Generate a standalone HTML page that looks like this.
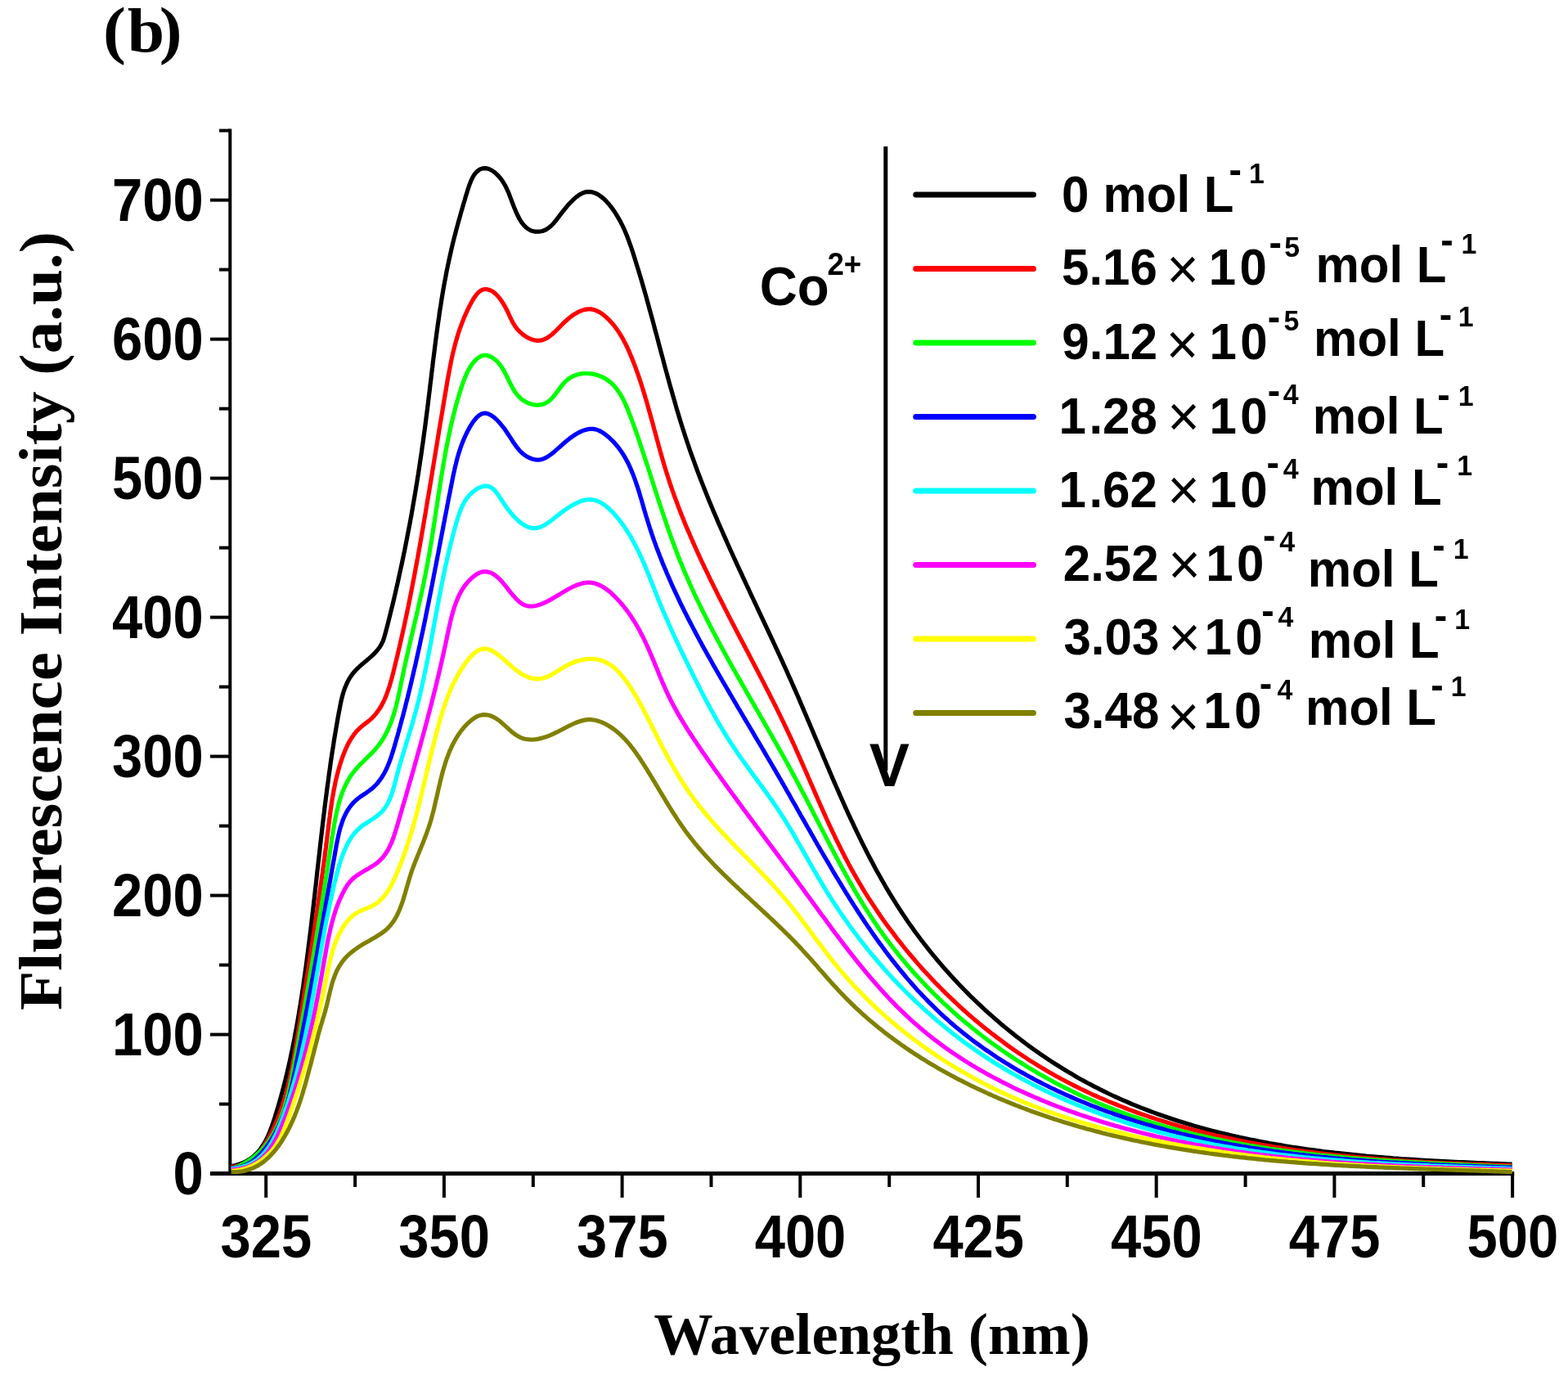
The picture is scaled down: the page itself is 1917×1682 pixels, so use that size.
<!DOCTYPE html>
<html><head><meta charset="utf-8"><title>Fluorescence spectra</title>
<style>html,body{margin:0;padding:0;background:#fff;}svg{display:block;}</style>
</head><body>
<svg width="1917" height="1682" viewBox="0 0 1917 1682">
<rect x="0" y="0" width="1917" height="1682" fill="#fff"/>
<g stroke="#000" stroke-linecap="butt" fill="none">
<line x1="281.3" y1="157.5" x2="281.3" y2="1437" stroke-width="4"/>
<line x1="257" y1="1434.6" x2="1851.2" y2="1434.6" stroke-width="5"/>
<line x1="257" y1="1434.6" x2="281.3" y2="1434.6" stroke-width="4"/>
<line x1="268" y1="1349.6" x2="281.3" y2="1349.6" stroke-width="4"/>
<line x1="257" y1="1264.6" x2="281.3" y2="1264.6" stroke-width="4"/>
<line x1="268" y1="1179.6" x2="281.3" y2="1179.6" stroke-width="4"/>
<line x1="257" y1="1094.6" x2="281.3" y2="1094.6" stroke-width="4"/>
<line x1="268" y1="1009.6" x2="281.3" y2="1009.6" stroke-width="4"/>
<line x1="257" y1="924.6" x2="281.3" y2="924.6" stroke-width="4"/>
<line x1="268" y1="839.6" x2="281.3" y2="839.6" stroke-width="4"/>
<line x1="257" y1="754.6" x2="281.3" y2="754.6" stroke-width="4"/>
<line x1="268" y1="669.6" x2="281.3" y2="669.6" stroke-width="4"/>
<line x1="257" y1="584.6" x2="281.3" y2="584.6" stroke-width="4"/>
<line x1="268" y1="499.6" x2="281.3" y2="499.6" stroke-width="4"/>
<line x1="257" y1="414.6" x2="281.3" y2="414.6" stroke-width="4"/>
<line x1="268" y1="329.6" x2="281.3" y2="329.6" stroke-width="4"/>
<line x1="257" y1="244.6" x2="281.3" y2="244.6" stroke-width="4"/>
<line x1="268" y1="159.6" x2="281.3" y2="159.6" stroke-width="4"/>
<line x1="325.2" y1="1434.6" x2="325.2" y2="1464" stroke-width="4"/>
<line x1="434.1" y1="1434.6" x2="434.1" y2="1451" stroke-width="4"/>
<line x1="542.9" y1="1434.6" x2="542.9" y2="1464" stroke-width="4"/>
<line x1="651.8" y1="1434.6" x2="651.8" y2="1451" stroke-width="4"/>
<line x1="760.6" y1="1434.6" x2="760.6" y2="1464" stroke-width="4"/>
<line x1="869.5" y1="1434.6" x2="869.5" y2="1451" stroke-width="4"/>
<line x1="978.3" y1="1434.6" x2="978.3" y2="1464" stroke-width="4"/>
<line x1="1087.2" y1="1434.6" x2="1087.2" y2="1451" stroke-width="4"/>
<line x1="1196.0" y1="1434.6" x2="1196.0" y2="1464" stroke-width="4"/>
<line x1="1304.8" y1="1434.6" x2="1304.8" y2="1451" stroke-width="4"/>
<line x1="1413.7" y1="1434.6" x2="1413.7" y2="1464" stroke-width="4"/>
<line x1="1522.6" y1="1434.6" x2="1522.6" y2="1451" stroke-width="4"/>
<line x1="1631.4" y1="1434.6" x2="1631.4" y2="1464" stroke-width="4"/>
<line x1="1740.2" y1="1434.6" x2="1740.2" y2="1451" stroke-width="4"/>
<line x1="1849.1" y1="1434.6" x2="1849.1" y2="1464" stroke-width="4"/>
</g>
<g fill="none" stroke-width="5.2" stroke-linejoin="round" stroke-linecap="butt">
<path d="M282.5 1425.6 L288.0 1424.5 L293.0 1423.0 L297.7 1421.1 L302.0 1419.0 L306.0 1416.5 L309.6 1413.8 L312.9 1410.7 L316.0 1407.5 L318.8 1404.0 L321.3 1400.3 L323.7 1396.4 L325.8 1392.4 L327.8 1388.3 L329.6 1384.0 L331.3 1379.6 L332.9 1375.2 L334.4 1370.7 L335.9 1366.2 L337.3 1361.6 L338.7 1357.1 L340.1 1352.5 L341.4 1348.0 L342.7 1343.4 L344.0 1338.8 L345.2 1334.3 L346.4 1329.7 L347.6 1325.1 L348.8 1320.5 L349.9 1315.9 L351.0 1311.3 L352.1 1306.7 L353.1 1302.1 L354.2 1297.5 L355.2 1292.9 L356.1 1288.3 L357.1 1283.7 L358.0 1279.0 L359.0 1274.4 L359.9 1269.8 L360.7 1265.1 L361.6 1260.5 L362.5 1255.8 L363.3 1251.2 L364.1 1246.6 L364.9 1241.9 L365.7 1237.3 L366.4 1232.6 L367.2 1228.0 L367.9 1223.3 L368.7 1218.6 L369.4 1214.0 L370.1 1209.3 L370.8 1204.7 L371.4 1200.0 L372.1 1195.3 L372.8 1190.7 L373.4 1186.0 L374.1 1181.3 L374.7 1176.7 L375.3 1172.0 L375.9 1167.3 L376.5 1162.6 L377.1 1158.0 L377.7 1153.3 L378.3 1148.6 L378.9 1143.9 L379.5 1139.2 L380.0 1134.6 L380.6 1129.9 L381.1 1125.2 L381.7 1120.5 L382.2 1115.8 L382.8 1111.1 L383.3 1106.5 L383.8 1101.8 L384.4 1097.1 L384.9 1092.4 L385.4 1087.7 L386.0 1083.0 L386.5 1078.3 L387.0 1073.6 L387.5 1068.9 L388.0 1064.2 L388.6 1059.5 L389.1 1054.8 L389.6 1050.1 L390.2 1045.4 L390.7 1040.8 L391.2 1036.1 L391.7 1031.4 L392.3 1026.7 L392.8 1022.0 L393.4 1017.3 L393.9 1012.6 L394.5 1007.9 L395.0 1003.2 L395.6 998.5 L396.2 993.8 L396.7 989.1 L397.3 984.4 L397.9 979.7 L398.5 975.0 L399.1 970.3 L399.7 965.6 L400.3 960.9 L401.0 956.2 L401.6 951.5 L402.2 946.8 L402.9 942.1 L403.6 937.4 L404.2 932.7 L404.9 928.0 L405.6 923.3 L406.3 918.6 L407.1 913.9 L407.8 909.2 L408.5 904.5 L409.3 899.8 L410.1 895.1 L410.9 890.4 L411.7 885.7 L412.5 881.0 L413.3 876.3 L414.2 871.6 L415.1 866.9 L416.0 862.2 L416.9 857.6 L418.0 853.0 L419.2 848.5 L420.6 844.0 L422.2 839.7 L424.0 835.5 L426.0 831.4 L428.4 827.5 L431.0 823.8 L434.0 820.3 L437.3 816.9 L440.8 813.7 L444.4 810.5 L448.1 807.5 L451.7 804.4 L455.1 801.3 L458.4 798.1 L461.4 794.8 L464.1 791.2 L466.4 787.4 L468.3 783.3 L469.8 778.9 L471.1 774.3 L472.3 769.7 L473.5 765.0 L474.7 760.4 L475.8 755.8 L477.0 751.1 L478.1 746.5 L479.3 741.9 L480.4 737.3 L481.5 732.6 L482.6 728.0 L483.7 723.4 L484.7 718.8 L485.8 714.2 L486.8 709.5 L487.8 704.9 L488.8 700.3 L489.8 695.7 L490.8 691.1 L491.8 686.4 L492.8 681.8 L493.7 677.2 L494.7 672.6 L495.6 667.9 L496.5 663.3 L497.4 658.7 L498.3 654.1 L499.2 649.4 L500.1 644.8 L501.0 640.2 L501.8 635.6 L502.7 630.9 L503.5 626.3 L504.3 621.7 L505.1 617.0 L505.9 612.4 L506.7 607.7 L507.5 603.1 L508.3 598.5 L509.0 593.8 L509.8 589.2 L510.5 584.5 L511.3 579.9 L512.0 575.2 L512.7 570.6 L513.4 565.9 L514.1 561.2 L514.8 556.6 L515.5 551.9 L516.1 547.2 L516.8 542.6 L517.5 537.9 L518.1 533.2 L518.7 528.5 L519.4 523.8 L520.0 519.1 L520.6 514.4 L521.2 509.7 L521.8 505.0 L522.4 500.3 L523.0 495.6 L523.6 490.9 L524.1 486.2 L524.7 481.5 L525.3 476.8 L525.8 472.1 L526.4 467.3 L527.0 462.6 L527.5 457.9 L528.1 453.2 L528.7 448.5 L529.2 443.7 L529.8 439.0 L530.4 434.3 L531.0 429.6 L531.6 424.9 L532.2 420.2 L532.8 415.5 L533.4 410.8 L534.0 406.1 L534.7 401.4 L535.3 396.7 L536.0 392.0 L536.7 387.4 L537.3 382.7 L538.0 378.0 L538.8 373.4 L539.5 368.7 L540.2 364.1 L541.0 359.5 L541.8 354.8 L542.6 350.2 L543.4 345.6 L544.3 341.0 L545.2 336.4 L546.0 331.8 L547.0 327.3 L547.9 322.7 L548.9 318.1 L549.9 313.6 L550.9 309.1 L551.9 304.6 L553.0 300.0 L554.1 295.5 L555.2 291.0 L556.4 286.5 L557.6 281.9 L558.8 277.4 L560.0 272.8 L561.3 268.2 L562.6 263.6 L563.9 258.9 L565.3 254.2 L566.6 249.5 L568.1 244.7 L569.5 239.8 L571.0 234.9 L572.5 230.0 L574.2 225.2 L576.0 220.6 L578.1 216.4 L580.4 212.7 L583.2 209.6 L586.4 207.2 L590.0 205.8 L593.8 205.6 L597.7 206.5 L601.6 208.5 L605.3 211.2 L608.8 214.5 L611.9 218.0 L614.6 221.8 L617.1 225.8 L619.2 230.0 L621.2 234.3 L623.0 238.9 L624.8 243.6 L626.6 248.4 L628.5 253.3 L630.5 258.1 L632.6 262.8 L634.9 267.3 L637.4 271.4 L640.2 275.0 L643.2 278.1 L646.6 280.5 L650.4 282.3 L654.5 283.2 L658.8 283.2 L663.0 282.5 L666.9 281.0 L670.5 278.8 L673.8 276.0 L677.0 272.7 L680.1 269.0 L683.2 264.9 L686.4 260.7 L689.8 256.4 L693.3 252.1 L697.0 248.0 L700.7 244.3 L704.5 240.9 L708.3 238.1 L712.2 236.0 L716.0 234.7 L719.8 234.3 L723.6 234.7 L727.4 235.9 L731.0 237.7 L734.6 240.1 L738.1 242.9 L741.4 246.2 L744.6 249.8 L747.7 253.7 L750.6 257.7 L753.3 261.9 L755.8 266.1 L758.2 270.3 L760.4 274.6 L762.5 278.9 L764.4 283.2 L766.2 287.6 L767.9 292.0 L769.5 296.4 L771.1 300.8 L772.6 305.3 L774.1 309.8 L775.5 314.2 L776.9 318.7 L778.3 323.2 L779.7 327.7 L781.1 332.2 L782.4 336.7 L783.8 341.2 L785.1 345.8 L786.4 350.3 L787.7 354.8 L789.0 359.4 L790.3 363.9 L791.5 368.5 L792.8 373.0 L794.0 377.6 L795.3 382.2 L796.5 386.7 L797.8 391.3 L799.0 395.9 L800.2 400.5 L801.4 405.0 L802.7 409.6 L803.9 414.2 L805.1 418.8 L806.3 423.4 L807.5 427.9 L808.7 432.5 L810.0 437.1 L811.2 441.7 L812.4 446.3 L813.6 450.8 L814.9 455.4 L816.1 460.0 L817.4 464.6 L818.6 469.1 L819.9 473.7 L821.2 478.2 L822.5 482.8 L823.8 487.4 L825.1 491.9 L826.4 496.4 L827.7 501.0 L829.1 505.5 L830.4 510.0 L831.8 514.5 L833.2 519.0 L834.6 523.5 L836.1 528.0 L837.5 532.5 L839.0 537.0 L840.5 541.5 L842.0 545.9 L843.5 550.4 L845.1 554.8 L846.7 559.3 L848.3 563.7 L849.9 568.1 L851.5 572.5 L853.1 576.9 L854.8 581.3 L856.5 585.7 L858.2 590.1 L859.9 594.4 L861.6 598.8 L863.4 603.2 L865.1 607.5 L866.9 611.9 L868.7 616.2 L870.5 620.6 L872.3 624.9 L874.2 629.2 L876.0 633.5 L877.8 637.9 L879.7 642.2 L881.6 646.5 L883.5 650.8 L885.4 655.1 L887.3 659.4 L889.2 663.7 L891.1 668.0 L893.0 672.2 L895.0 676.5 L896.9 680.8 L898.9 685.1 L900.8 689.4 L902.8 693.6 L904.8 697.9 L906.8 702.2 L908.7 706.4 L910.7 710.7 L912.7 715.0 L914.7 719.2 L916.7 723.5 L918.7 727.8 L920.7 732.0 L922.7 736.3 L924.7 740.5 L926.7 744.8 L928.7 749.1 L930.7 753.3 L932.7 757.6 L934.7 761.9 L936.7 766.1 L938.7 770.4 L940.7 774.7 L942.7 778.9 L944.7 783.2 L946.7 787.5 L948.7 791.8 L950.7 796.1 L952.6 800.3 L954.6 804.6 L956.6 808.9 L958.5 813.2 L960.5 817.5 L962.4 821.8 L964.3 826.1 L966.3 830.4 L968.2 834.7 L970.1 839.1 L972.0 843.4 L973.9 847.7 L975.8 852.0 L977.7 856.4 L979.5 860.7 L981.4 865.1 L983.2 869.4 L985.1 873.7 L986.9 878.1 L988.8 882.4 L990.6 886.8 L992.5 891.2 L994.3 895.5 L996.1 899.9 L998.0 904.2 L999.8 908.6 L1001.6 912.9 L1003.5 917.3 L1005.3 921.6 L1007.1 926.0 L1009.0 930.3 L1010.8 934.7 L1012.7 939.0 L1014.5 943.4 L1016.4 947.7 L1018.2 952.1 L1020.1 956.4 L1022.0 960.7 L1023.9 965.0 L1025.8 969.4 L1027.7 973.7 L1029.6 978.0 L1031.5 982.3 L1033.4 986.6 L1035.4 990.9 L1037.3 995.1 L1039.3 999.4 L1041.3 1003.7 L1043.3 1007.9 L1045.3 1012.2 L1047.3 1016.4 L1049.4 1020.6 L1051.4 1024.9 L1053.5 1029.1 L1055.6 1033.3 L1057.7 1037.5 L1059.8 1041.7 L1061.9 1045.8 L1064.1 1050.0 L1066.3 1054.1 L1068.5 1058.3 L1070.7 1062.4 L1073.0 1066.5 L1075.3 1070.6 L1077.6 1074.7 L1079.9 1078.7 L1082.2 1082.8 L1084.6 1086.8 L1087.0 1090.9 L1089.4 1094.9 L1091.9 1098.9 L1094.4 1102.8 L1096.9 1106.8 L1099.4 1110.8 L1102.0 1114.7 L1104.6 1118.6 L1107.2 1122.5 L1109.8 1126.4 L1112.5 1130.2 L1115.3 1134.1 L1118.0 1137.9 L1120.8 1141.7 L1123.6 1145.5 L1126.4 1149.2 L1129.3 1153.0 L1132.2 1156.7 L1135.1 1160.4 L1138.1 1164.1 L1141.1 1167.8 L1144.1 1171.4 L1147.1 1175.0 L1150.2 1178.6 L1153.3 1182.2 L1156.4 1185.8 L1159.6 1189.3 L1162.7 1192.8 L1165.9 1196.3 L1169.2 1199.8 L1172.4 1203.2 L1175.7 1206.6 L1179.0 1210.0 L1182.3 1213.4 L1185.7 1216.8 L1189.1 1220.1 L1192.5 1223.4 L1195.9 1226.7 L1199.4 1229.9 L1202.8 1233.1 L1206.3 1236.3 L1209.9 1239.5 L1213.4 1242.6 L1217.0 1245.8 L1220.6 1248.9 L1224.2 1251.9 L1227.8 1255.0 L1231.5 1258.0 L1235.2 1261.0 L1238.9 1263.9 L1242.6 1266.9 L1246.4 1269.8 L1250.1 1272.6 L1253.9 1275.5 L1257.7 1278.3 L1261.5 1281.1 L1265.4 1283.8 L1269.3 1286.6 L1273.2 1289.3 L1277.1 1291.9 L1281.0 1294.6 L1284.9 1297.2 L1288.9 1299.7 L1292.9 1302.3 L1296.9 1304.8 L1300.9 1307.3 L1304.9 1309.7 L1309.0 1312.1 L1313.1 1314.5 L1317.1 1316.9 L1321.2 1319.2 L1325.4 1321.4 L1329.5 1323.7 L1333.7 1325.9 L1337.8 1328.1 L1342.0 1330.2 L1346.2 1332.3 L1350.4 1334.4 L1354.6 1336.5 L1358.9 1338.5 L1363.1 1340.5 L1367.4 1342.4 L1371.7 1344.3 L1376.0 1346.2 L1380.3 1348.0 L1384.6 1349.9 L1389.0 1351.6 L1393.3 1353.4 L1397.7 1355.1 L1402.1 1356.8 L1406.5 1358.5 L1410.9 1360.1 L1415.3 1361.7 L1419.7 1363.3 L1424.1 1364.8 L1428.6 1366.3 L1433.0 1367.8 L1437.5 1369.3 L1442.0 1370.7 L1446.5 1372.1 L1451.0 1373.5 L1455.5 1374.8 L1460.0 1376.2 L1464.5 1377.4 L1469.1 1378.7 L1473.6 1380.0 L1478.2 1381.2 L1482.8 1382.4 L1487.3 1383.5 L1491.9 1384.7 L1496.5 1385.8 L1501.1 1386.9 L1505.7 1388.0 L1510.3 1389.0 L1514.9 1390.1 L1519.6 1391.1 L1524.2 1392.0 L1528.8 1393.0 L1533.5 1393.9 L1538.1 1394.9 L1542.8 1395.8 L1547.5 1396.6 L1552.1 1397.5 L1556.8 1398.3 L1561.5 1399.1 L1566.2 1399.9 L1570.9 1400.7 L1575.6 1401.5 L1580.3 1402.2 L1585.0 1402.9 L1589.7 1403.6 L1594.4 1404.3 L1599.1 1405.0 L1603.8 1405.6 L1608.6 1406.2 L1613.3 1406.9 L1618.0 1407.5 L1622.8 1408.0 L1627.5 1408.6 L1632.2 1409.2 L1637.0 1409.7 L1641.7 1410.2 L1646.4 1410.7 L1651.2 1411.2 L1655.9 1411.7 L1660.7 1412.2 L1665.4 1412.6 L1670.1 1413.1 L1674.9 1413.5 L1679.6 1413.9 L1684.4 1414.3 L1689.1 1414.7 L1693.9 1415.1 L1698.6 1415.4 L1703.3 1415.8 L1708.1 1416.1 L1712.8 1416.5 L1717.6 1416.8 L1722.3 1417.1 L1727.0 1417.4 L1731.7 1417.7 L1736.5 1418.0 L1741.2 1418.3 L1745.9 1418.6 L1750.6 1418.8 L1755.3 1419.1 L1760.1 1419.3 L1764.8 1419.6 L1769.5 1419.8 L1774.2 1420.0 L1778.9 1420.3 L1783.5 1420.5 L1788.2 1420.7 L1792.9 1420.9 L1797.6 1421.1 L1802.2 1421.3 L1806.9 1421.5 L1811.6 1421.7 L1816.2 1421.9 L1820.9 1422.1 L1825.5 1422.3 L1830.1 1422.4 L1834.7 1422.6 L1839.4 1422.8 L1844.0 1423.0 L1848.6 1423.1" stroke="#000000"/>
<path d="M282.9 1426.3 L287.8 1425.8 L292.3 1424.9 L296.6 1423.5 L300.6 1421.8 L304.3 1419.8 L307.8 1417.4 L311.0 1414.7 L314.0 1411.8 L316.9 1408.6 L319.5 1405.3 L322.0 1401.8 L324.3 1398.1 L326.6 1394.4 L328.7 1390.6 L330.7 1386.7 L332.7 1382.9 L334.5 1378.9 L336.3 1375.0 L338.0 1371.0 L339.6 1367.0 L341.2 1363.0 L342.7 1359.0 L344.1 1354.9 L345.5 1350.8 L346.8 1346.7 L348.0 1342.6 L349.2 1338.4 L350.3 1334.3 L351.4 1330.1 L352.5 1325.9 L353.5 1321.7 L354.4 1317.4 L355.4 1313.2 L356.2 1309.0 L357.1 1304.7 L357.9 1300.4 L358.7 1296.2 L359.5 1291.9 L360.3 1287.6 L361.0 1283.3 L361.7 1279.0 L362.4 1274.7 L363.1 1270.4 L363.8 1266.1 L364.5 1261.8 L365.2 1257.6 L365.9 1253.3 L366.6 1249.0 L367.3 1244.7 L367.9 1240.4 L368.6 1236.1 L369.3 1231.9 L370.0 1227.6 L370.7 1223.3 L371.4 1219.0 L372.0 1214.8 L372.7 1210.5 L373.4 1206.2 L374.1 1202.0 L374.7 1197.7 L375.4 1193.5 L376.1 1189.2 L376.8 1184.9 L377.4 1180.7 L378.1 1176.4 L378.7 1172.2 L379.4 1167.9 L380.1 1163.7 L380.7 1159.4 L381.4 1155.1 L382.0 1150.9 L382.7 1146.6 L383.3 1142.4 L384.0 1138.1 L384.6 1133.9 L385.3 1129.6 L385.9 1125.3 L386.5 1121.1 L387.2 1116.8 L387.8 1112.5 L388.4 1108.3 L389.0 1104.0 L389.6 1099.7 L390.3 1095.5 L390.9 1091.2 L391.5 1086.9 L392.1 1082.7 L392.7 1078.4 L393.3 1074.1 L393.9 1069.8 L394.5 1065.5 L395.0 1061.2 L395.6 1057.0 L396.2 1052.7 L396.8 1048.4 L397.3 1044.1 L397.9 1039.8 L398.5 1035.5 L399.0 1031.1 L399.6 1026.8 L400.1 1022.5 L400.6 1018.2 L401.2 1013.9 L401.7 1009.5 L402.3 1005.2 L402.8 1000.9 L403.4 996.6 L403.9 992.2 L404.6 987.9 L405.2 983.6 L405.8 979.3 L406.5 975.0 L407.3 970.8 L408.0 966.5 L408.9 962.2 L409.7 958.0 L410.6 953.8 L411.6 949.6 L412.7 945.4 L413.8 941.2 L415.0 937.1 L416.2 933.0 L417.6 928.9 L419.0 924.8 L420.5 920.8 L422.1 916.8 L423.9 912.9 L425.7 909.1 L427.8 905.4 L430.0 901.8 L432.4 898.4 L434.9 895.1 L437.7 892.1 L440.7 889.2 L444.0 886.5 L447.4 883.9 L450.7 881.4 L453.9 878.6 L456.8 875.7 L459.5 872.6 L461.9 869.4 L464.2 866.0 L466.4 862.5 L468.3 858.8 L470.1 855.0 L471.8 851.1 L473.3 847.1 L474.7 843.1 L476.1 839.0 L477.3 834.8 L478.5 830.6 L479.7 826.3 L480.8 822.1 L481.8 817.8 L482.9 813.5 L483.9 809.2 L485.0 805.0 L486.0 800.7 L487.0 796.4 L488.0 792.2 L489.0 787.9 L490.0 783.7 L490.9 779.4 L491.9 775.2 L492.8 770.9 L493.8 766.7 L494.7 762.4 L495.6 758.2 L496.5 753.9 L497.4 749.7 L498.3 745.4 L499.2 741.2 L500.0 737.0 L500.9 732.7 L501.7 728.5 L502.6 724.2 L503.4 720.0 L504.2 715.8 L505.0 711.5 L505.9 707.3 L506.7 703.1 L507.5 698.8 L508.2 694.6 L509.0 690.4 L509.8 686.1 L510.6 681.9 L511.3 677.7 L512.1 673.4 L512.9 669.2 L513.6 665.0 L514.4 660.8 L515.1 656.5 L515.8 652.3 L516.6 648.1 L517.3 643.8 L518.0 639.6 L518.8 635.3 L519.5 631.1 L520.2 626.9 L520.9 622.6 L521.6 618.4 L522.3 614.1 L523.0 609.9 L523.8 605.7 L524.5 601.4 L525.2 597.2 L525.9 592.9 L526.6 588.7 L527.3 584.4 L528.0 580.2 L528.7 575.9 L529.4 571.6 L530.1 567.4 L530.8 563.1 L531.5 558.9 L532.2 554.6 L532.9 550.3 L533.6 546.1 L534.3 541.8 L535.0 537.5 L535.7 533.3 L536.4 529.0 L537.1 524.7 L537.8 520.5 L538.5 516.2 L539.2 511.9 L540.0 507.6 L540.7 503.4 L541.4 499.1 L542.1 494.8 L542.8 490.6 L543.5 486.3 L544.2 482.0 L545.0 477.8 L545.7 473.5 L546.4 469.2 L547.1 465.0 L547.9 460.7 L548.7 456.4 L549.5 452.2 L550.3 447.9 L551.1 443.7 L552.0 439.5 L552.9 435.3 L553.9 431.0 L554.9 426.8 L556.0 422.7 L557.1 418.5 L558.3 414.3 L559.5 410.2 L560.8 406.0 L562.2 401.9 L563.7 397.8 L565.2 393.8 L566.8 389.7 L568.5 385.7 L570.3 381.7 L572.2 377.7 L574.2 373.7 L576.3 369.7 L578.5 365.9 L580.9 362.3 L583.4 359.0 L586.1 356.4 L589.1 354.5 L592.3 353.6 L595.7 353.7 L599.3 354.7 L602.7 356.6 L606.0 359.2 L609.1 362.5 L612.0 366.2 L614.7 370.2 L617.2 374.4 L619.5 378.8 L621.6 383.0 L623.5 387.2 L625.4 391.2 L627.4 395.0 L629.7 398.7 L632.3 402.2 L635.3 405.4 L638.6 408.3 L642.1 410.9 L645.8 413.1 L649.5 414.7 L653.3 415.8 L657.1 416.3 L660.9 416.2 L664.4 415.2 L667.9 413.7 L671.3 411.5 L674.6 409.0 L677.9 406.0 L681.1 402.8 L684.5 399.5 L687.8 396.0 L691.3 392.7 L694.9 389.5 L698.7 386.5 L702.5 383.9 L706.4 381.7 L710.4 379.9 L714.4 378.6 L718.4 377.9 L722.3 377.9 L726.1 378.6 L729.8 380.0 L733.4 381.9 L736.9 384.2 L740.2 386.9 L743.3 389.8 L746.3 392.9 L749.2 396.1 L751.9 399.4 L754.4 402.9 L756.8 406.4 L759.1 410.1 L761.3 413.8 L763.3 417.6 L765.3 421.5 L767.2 425.4 L769.0 429.4 L770.7 433.4 L772.4 437.5 L774.0 441.5 L775.6 445.6 L777.1 449.7 L778.6 453.8 L780.1 457.9 L781.5 462.1 L782.9 466.2 L784.2 470.3 L785.5 474.5 L786.8 478.6 L788.1 482.8 L789.3 487.0 L790.6 491.1 L791.8 495.3 L792.9 499.5 L794.1 503.7 L795.3 507.9 L796.4 512.0 L797.6 516.2 L798.7 520.4 L799.8 524.6 L801.0 528.8 L802.1 532.9 L803.2 537.1 L804.4 541.3 L805.5 545.5 L806.7 549.6 L807.8 553.8 L809.0 557.9 L810.2 562.1 L811.4 566.2 L812.6 570.4 L813.9 574.5 L815.2 578.6 L816.5 582.7 L817.8 586.8 L819.1 590.9 L820.5 594.9 L821.9 599.0 L823.4 603.1 L824.8 607.1 L826.3 611.2 L827.8 615.2 L829.3 619.2 L830.8 623.2 L832.4 627.2 L834.0 631.2 L835.6 635.2 L837.2 639.2 L838.8 643.2 L840.5 647.1 L842.2 651.1 L843.9 655.0 L845.6 659.0 L847.3 662.9 L849.1 666.9 L850.8 670.8 L852.6 674.7 L854.4 678.6 L856.2 682.6 L858.0 686.5 L859.9 690.4 L861.7 694.3 L863.6 698.2 L865.5 702.0 L867.3 705.9 L869.2 709.8 L871.1 713.7 L873.1 717.6 L875.0 721.4 L876.9 725.3 L878.8 729.2 L880.8 733.0 L882.8 736.9 L884.7 740.7 L886.7 744.6 L888.7 748.4 L890.6 752.3 L892.6 756.1 L894.6 760.0 L896.6 763.8 L898.6 767.6 L900.6 771.5 L902.6 775.3 L904.6 779.2 L906.6 783.0 L908.7 786.8 L910.7 790.7 L912.7 794.5 L914.7 798.3 L916.7 802.2 L918.7 806.0 L920.7 809.9 L922.7 813.7 L924.7 817.5 L926.7 821.4 L928.7 825.2 L930.7 829.1 L932.7 832.9 L934.7 836.8 L936.6 840.6 L938.6 844.5 L940.6 848.3 L942.5 852.2 L944.5 856.0 L946.4 859.9 L948.4 863.8 L950.3 867.6 L952.2 871.5 L954.1 875.4 L956.0 879.3 L957.9 883.2 L959.7 887.1 L961.6 891.0 L963.4 894.9 L965.3 898.8 L967.1 902.7 L968.9 906.6 L970.7 910.5 L972.5 914.4 L974.2 918.4 L976.0 922.3 L977.7 926.2 L979.5 930.2 L981.2 934.1 L982.9 938.1 L984.7 942.0 L986.4 945.9 L988.1 949.9 L989.8 953.8 L991.5 957.8 L993.3 961.7 L995.0 965.7 L996.7 969.6 L998.4 973.6 L1000.1 977.5 L1001.9 981.4 L1003.6 985.4 L1005.4 989.3 L1007.1 993.2 L1008.9 997.1 L1010.6 1001.0 L1012.4 1005.0 L1014.2 1008.9 L1016.0 1012.8 L1017.8 1016.7 L1019.7 1020.5 L1021.5 1024.4 L1023.4 1028.3 L1025.3 1032.1 L1027.2 1036.0 L1029.1 1039.8 L1031.1 1043.7 L1033.0 1047.5 L1035.0 1051.3 L1037.0 1055.1 L1039.1 1058.9 L1041.1 1062.7 L1043.2 1066.4 L1045.3 1070.2 L1047.5 1073.9 L1049.7 1077.7 L1051.9 1081.4 L1054.1 1085.1 L1056.3 1088.8 L1058.6 1092.5 L1060.9 1096.1 L1063.2 1099.8 L1065.6 1103.4 L1068.0 1107.0 L1070.4 1110.6 L1072.8 1114.2 L1075.2 1117.8 L1077.7 1121.4 L1080.2 1124.9 L1082.7 1128.4 L1085.3 1132.0 L1087.9 1135.5 L1090.5 1138.9 L1093.1 1142.4 L1095.7 1145.9 L1098.4 1149.3 L1101.1 1152.7 L1103.8 1156.1 L1106.5 1159.5 L1109.3 1162.9 L1112.1 1166.2 L1114.9 1169.5 L1117.7 1172.8 L1120.5 1176.1 L1123.4 1179.4 L1126.3 1182.7 L1129.2 1185.9 L1132.1 1189.1 L1135.1 1192.3 L1138.1 1195.5 L1141.0 1198.7 L1144.1 1201.8 L1147.1 1204.9 L1150.2 1208.0 L1153.2 1211.1 L1156.3 1214.2 L1159.4 1217.2 L1162.6 1220.2 L1165.7 1223.2 L1168.9 1226.2 L1172.1 1229.1 L1175.3 1232.1 L1178.5 1235.0 L1181.8 1237.9 L1185.0 1240.7 L1188.3 1243.6 L1191.6 1246.4 L1195.0 1249.2 L1198.3 1251.9 L1201.7 1254.7 L1205.0 1257.4 L1208.4 1260.1 L1211.8 1262.8 L1215.3 1265.4 L1218.7 1268.1 L1222.2 1270.7 L1225.6 1273.2 L1229.1 1275.8 L1232.6 1278.3 L1236.1 1280.8 L1239.7 1283.3 L1243.2 1285.8 L1246.8 1288.2 L1250.4 1290.6 L1254.0 1292.9 L1257.6 1295.3 L1261.2 1297.6 L1264.9 1299.9 L1268.6 1302.2 L1272.2 1304.4 L1275.9 1306.6 L1279.6 1308.8 L1283.3 1310.9 L1287.1 1313.1 L1290.8 1315.2 L1294.6 1317.2 L1298.3 1319.3 L1302.1 1321.3 L1305.9 1323.3 L1309.7 1325.3 L1313.5 1327.2 L1317.4 1329.1 L1321.2 1331.0 L1325.1 1332.8 L1328.9 1334.7 L1332.8 1336.5 L1336.7 1338.3 L1340.6 1340.0 L1344.5 1341.8 L1348.5 1343.5 L1352.4 1345.1 L1356.4 1346.8 L1360.3 1348.4 L1364.3 1350.0 L1368.3 1351.6 L1372.3 1353.2 L1376.3 1354.7 L1380.3 1356.3 L1384.3 1357.8 L1388.3 1359.2 L1392.4 1360.7 L1396.4 1362.1 L1400.5 1363.5 L1404.5 1364.9 L1408.6 1366.2 L1412.7 1367.6 L1416.8 1368.9 L1420.9 1370.2 L1425.0 1371.5 L1429.1 1372.7 L1433.3 1374.0 L1437.4 1375.2 L1441.5 1376.4 L1445.7 1377.5 L1449.9 1378.7 L1454.0 1379.8 L1458.2 1380.9 L1462.4 1382.0 L1466.6 1383.1 L1470.8 1384.1 L1475.0 1385.2 L1479.2 1386.2 L1483.4 1387.2 L1487.6 1388.2 L1491.8 1389.1 L1496.0 1390.1 L1500.3 1391.0 L1504.5 1391.9 L1508.8 1392.8 L1513.0 1393.7 L1517.3 1394.6 L1521.5 1395.4 L1525.8 1396.2 L1530.1 1397.0 L1534.4 1397.8 L1538.6 1398.6 L1542.9 1399.4 L1547.2 1400.1 L1551.5 1400.8 L1555.8 1401.5 L1560.1 1402.2 L1564.4 1402.9 L1568.7 1403.6 L1573.0 1404.2 L1577.3 1404.9 L1581.6 1405.5 L1586.0 1406.1 L1590.3 1406.7 L1594.6 1407.3 L1598.9 1407.9 L1603.2 1408.4 L1607.6 1409.0 L1611.9 1409.5 L1616.2 1410.0 L1620.6 1410.5 L1624.9 1411.0 L1629.2 1411.5 L1633.6 1412.0 L1637.9 1412.5 L1642.2 1412.9 L1646.6 1413.3 L1650.9 1413.8 L1655.3 1414.2 L1659.6 1414.6 L1663.9 1415.0 L1668.3 1415.4 L1672.6 1415.7 L1676.9 1416.1 L1681.3 1416.5 L1685.6 1416.8 L1689.9 1417.1 L1694.3 1417.5 L1698.6 1417.8 L1702.9 1418.1 L1707.3 1418.4 L1711.6 1418.7 L1715.9 1419.0 L1720.2 1419.2 L1724.6 1419.5 L1728.9 1419.7 L1733.2 1420.0 L1737.5 1420.2 L1741.8 1420.5 L1746.1 1420.7 L1750.4 1420.9 L1754.7 1421.1 L1759.0 1421.4 L1763.3 1421.6 L1767.6 1421.8 L1771.9 1421.9 L1776.2 1422.1 L1780.4 1422.3 L1784.7 1422.5 L1789.0 1422.7 L1793.2 1422.8 L1797.5 1423.0 L1801.7 1423.1 L1806.0 1423.3 L1810.2 1423.4 L1814.5 1423.6 L1818.7 1423.7 L1822.9 1423.9 L1827.2 1424.0 L1831.4 1424.1 L1835.6 1424.2 L1839.8 1424.4 L1844.0 1424.5 L1848.2 1424.6" stroke="#ff0000"/>
<path d="M283.4 1428.5 L287.7 1427.0 L291.7 1425.3 L295.6 1423.5 L299.3 1421.5 L302.9 1419.4 L306.3 1417.1 L309.6 1414.8 L312.7 1412.3 L315.6 1409.7 L318.4 1407.0 L321.1 1404.1 L323.7 1401.2 L326.1 1398.2 L328.4 1395.0 L330.6 1391.8 L332.7 1388.5 L334.7 1385.1 L336.6 1381.6 L338.3 1378.0 L340.0 1374.4 L341.6 1370.7 L343.1 1367.0 L344.5 1363.1 L345.9 1359.3 L347.2 1355.3 L348.4 1351.4 L349.6 1347.4 L350.7 1343.3 L351.7 1339.2 L352.7 1335.1 L353.7 1331.0 L354.6 1326.8 L355.5 1322.6 L356.3 1318.4 L357.2 1314.2 L358.0 1310.0 L358.8 1305.8 L359.6 1301.6 L360.3 1297.4 L361.1 1293.3 L361.9 1289.1 L362.7 1284.9 L363.4 1280.8 L364.2 1276.6 L364.9 1272.5 L365.7 1268.4 L366.4 1264.3 L367.2 1260.1 L367.9 1256.0 L368.7 1251.9 L369.4 1247.9 L370.1 1243.8 L370.8 1239.7 L371.6 1235.6 L372.3 1231.6 L373.0 1227.5 L373.7 1223.4 L374.4 1219.4 L375.1 1215.3 L375.8 1211.3 L376.5 1207.3 L377.2 1203.2 L377.9 1199.2 L378.6 1195.2 L379.3 1191.1 L380.0 1187.1 L380.7 1183.1 L381.3 1179.1 L382.0 1175.1 L382.7 1171.0 L383.4 1167.0 L384.0 1163.0 L384.7 1159.0 L385.4 1155.0 L386.0 1151.0 L386.7 1146.9 L387.3 1142.9 L388.0 1138.9 L388.7 1134.9 L389.3 1130.9 L390.0 1126.8 L390.6 1122.8 L391.3 1118.8 L391.9 1114.8 L392.6 1110.7 L393.2 1106.7 L393.8 1102.6 L394.5 1098.6 L395.1 1094.5 L395.8 1090.5 L396.4 1086.4 L397.1 1082.4 L397.7 1078.3 L398.3 1074.2 L399.0 1070.1 L399.6 1066.0 L400.2 1062.0 L400.9 1057.9 L401.5 1053.7 L402.1 1049.6 L402.8 1045.5 L403.4 1041.4 L404.0 1037.2 L404.7 1033.1 L405.3 1028.9 L405.9 1024.7 L406.6 1020.6 L407.2 1016.4 L407.9 1012.2 L408.6 1008.1 L409.3 1003.9 L410.1 999.8 L410.9 995.7 L411.8 991.6 L412.8 987.6 L413.8 983.6 L414.9 979.6 L416.1 975.7 L417.4 971.9 L418.8 968.1 L420.3 964.4 L421.9 960.8 L423.7 957.2 L425.6 953.7 L427.6 950.3 L429.8 947.0 L432.2 943.8 L434.7 940.7 L437.4 937.7 L440.1 934.7 L443.0 931.8 L445.9 929.0 L448.8 926.1 L451.7 923.3 L454.6 920.4 L457.4 917.4 L460.1 914.4 L462.6 911.3 L465.0 908.1 L467.3 904.8 L469.3 901.4 L471.3 897.9 L473.1 894.4 L474.8 890.7 L476.4 887.0 L477.9 883.3 L479.3 879.4 L480.6 875.5 L481.9 871.6 L483.0 867.6 L484.1 863.6 L485.1 859.6 L486.1 855.5 L487.0 851.4 L487.9 847.2 L488.8 843.1 L489.7 839.0 L490.5 834.8 L491.3 830.7 L492.2 826.6 L493.1 822.4 L493.9 818.3 L494.8 814.3 L495.7 810.2 L496.6 806.1 L497.5 802.1 L498.5 798.0 L499.4 794.0 L500.3 789.9 L501.2 785.9 L502.2 781.9 L503.1 777.9 L504.1 773.9 L505.0 769.9 L505.9 765.9 L506.9 761.9 L507.8 757.9 L508.8 753.9 L509.7 749.9 L510.6 746.0 L511.5 742.0 L512.4 738.0 L513.3 734.0 L514.2 730.0 L515.1 726.0 L516.0 722.1 L516.8 718.1 L517.7 714.1 L518.5 710.1 L519.3 706.1 L520.2 702.0 L520.9 698.0 L521.7 694.0 L522.5 690.0 L523.2 685.9 L523.9 681.9 L524.7 677.8 L525.4 673.8 L526.0 669.7 L526.7 665.6 L527.4 661.5 L528.1 657.5 L528.7 653.4 L529.3 649.3 L530.0 645.2 L530.6 641.1 L531.3 637.0 L531.9 632.9 L532.5 628.8 L533.1 624.7 L533.7 620.6 L534.4 616.5 L535.0 612.4 L535.6 608.3 L536.2 604.3 L536.9 600.2 L537.5 596.1 L538.1 592.0 L538.8 587.9 L539.4 583.8 L540.1 579.7 L540.8 575.6 L541.5 571.6 L542.1 567.5 L542.8 563.4 L543.6 559.4 L544.3 555.3 L545.0 551.3 L545.8 547.2 L546.6 543.2 L547.4 539.2 L548.2 535.2 L549.0 531.1 L549.9 527.1 L550.7 523.1 L551.6 519.2 L552.6 515.2 L553.5 511.2 L554.5 507.2 L555.5 503.3 L556.5 499.3 L557.6 495.3 L558.7 491.3 L559.8 487.4 L561.0 483.4 L562.3 479.4 L563.5 475.4 L564.8 471.4 L566.2 467.3 L567.7 463.4 L569.3 459.5 L571.0 455.6 L572.9 452.0 L574.9 448.4 L577.2 445.1 L579.7 442.0 L582.5 439.1 L585.6 436.7 L589.0 434.9 L592.6 434.2 L596.4 434.7 L600.2 436.2 L603.8 438.4 L607.0 441.0 L609.8 444.1 L612.4 447.4 L614.7 451.0 L616.9 454.7 L618.9 458.6 L620.8 462.5 L622.7 466.5 L624.7 470.4 L626.7 474.2 L628.9 477.9 L631.3 481.3 L633.9 484.4 L636.9 487.2 L640.0 489.6 L643.4 491.6 L646.9 493.2 L650.5 494.3 L654.2 494.9 L657.9 495.1 L661.5 494.7 L665.0 493.7 L668.4 492.1 L671.6 489.9 L674.6 487.1 L677.4 483.8 L680.1 480.3 L682.9 476.6 L685.6 472.9 L688.5 469.3 L691.6 466.1 L694.9 463.2 L698.5 460.9 L702.2 459.1 L706.2 457.8 L710.3 456.9 L714.4 456.5 L718.6 456.5 L722.8 456.9 L726.8 457.6 L730.8 458.7 L734.6 460.1 L738.2 461.8 L741.6 463.8 L744.7 466.1 L747.7 468.5 L750.4 471.3 L752.9 474.2 L755.3 477.3 L757.5 480.6 L759.6 484.0 L761.6 487.6 L763.4 491.2 L765.1 495.0 L766.8 498.9 L768.4 502.8 L769.9 506.8 L771.4 510.7 L772.9 514.7 L774.3 518.7 L775.8 522.7 L777.2 526.7 L778.6 530.7 L780.0 534.7 L781.3 538.7 L782.7 542.7 L784.0 546.7 L785.4 550.7 L786.7 554.7 L788.0 558.6 L789.3 562.6 L790.6 566.6 L791.9 570.5 L793.2 574.5 L794.5 578.5 L795.7 582.4 L797.0 586.4 L798.3 590.3 L799.5 594.2 L800.8 598.2 L802.1 602.1 L803.4 606.0 L804.6 610.0 L805.9 613.9 L807.2 617.8 L808.5 621.7 L809.8 625.6 L811.1 629.5 L812.4 633.4 L813.7 637.3 L815.0 641.1 L816.4 645.0 L817.7 648.9 L819.1 652.7 L820.4 656.6 L821.8 660.4 L823.2 664.2 L824.7 668.0 L826.1 671.9 L827.6 675.7 L829.0 679.5 L830.5 683.3 L832.0 687.0 L833.6 690.8 L835.1 694.6 L836.7 698.3 L838.3 702.1 L839.9 705.8 L841.6 709.6 L843.2 713.3 L844.9 717.0 L846.6 720.7 L848.3 724.5 L850.0 728.2 L851.8 731.8 L853.5 735.5 L855.3 739.2 L857.1 742.9 L858.9 746.6 L860.7 750.2 L862.6 753.9 L864.4 757.5 L866.3 761.2 L868.2 764.8 L870.0 768.5 L871.9 772.1 L873.9 775.7 L875.8 779.4 L877.7 783.0 L879.7 786.6 L881.6 790.2 L883.6 793.8 L885.5 797.5 L887.5 801.1 L889.5 804.7 L891.5 808.3 L893.5 811.9 L895.5 815.5 L897.5 819.1 L899.6 822.7 L901.6 826.2 L903.6 829.8 L905.7 833.4 L907.7 837.0 L909.7 840.6 L911.8 844.2 L913.8 847.8 L915.9 851.4 L918.0 854.9 L920.0 858.5 L922.1 862.1 L924.1 865.7 L926.2 869.3 L928.3 872.9 L930.3 876.5 L932.4 880.0 L934.5 883.6 L936.5 887.2 L938.6 890.8 L940.6 894.4 L942.7 898.0 L944.7 901.6 L946.8 905.2 L948.8 908.8 L950.9 912.4 L952.9 916.0 L954.9 919.6 L957.0 923.3 L959.0 926.9 L961.0 930.5 L963.0 934.1 L965.0 937.8 L967.0 941.4 L968.9 945.0 L970.9 948.7 L972.9 952.3 L974.8 956.0 L976.8 959.6 L978.7 963.3 L980.6 967.0 L982.5 970.6 L984.5 974.3 L986.4 978.0 L988.3 981.6 L990.2 985.3 L992.1 989.0 L994.0 992.7 L995.8 996.4 L997.7 1000.0 L999.6 1003.7 L1001.5 1007.4 L1003.4 1011.1 L1005.3 1014.8 L1007.2 1018.4 L1009.1 1022.1 L1011.0 1025.8 L1012.9 1029.4 L1014.8 1033.1 L1016.7 1036.8 L1018.6 1040.4 L1020.5 1044.1 L1022.4 1047.7 L1024.4 1051.3 L1026.3 1055.0 L1028.3 1058.6 L1030.2 1062.2 L1032.2 1065.8 L1034.2 1069.4 L1036.2 1073.0 L1038.2 1076.6 L1040.2 1080.1 L1042.3 1083.7 L1044.3 1087.3 L1046.4 1090.8 L1048.5 1094.3 L1050.6 1097.9 L1052.7 1101.4 L1054.8 1104.9 L1057.0 1108.3 L1059.2 1111.8 L1061.4 1115.3 L1063.6 1118.7 L1065.8 1122.1 L1068.1 1125.5 L1070.4 1128.9 L1072.7 1132.3 L1075.0 1135.7 L1077.4 1139.0 L1079.8 1142.4 L1082.2 1145.7 L1084.6 1149.0 L1087.1 1152.3 L1089.6 1155.5 L1092.1 1158.8 L1094.6 1162.0 L1097.2 1165.2 L1099.7 1168.4 L1102.4 1171.6 L1105.0 1174.7 L1107.6 1177.9 L1110.3 1181.0 L1113.0 1184.1 L1115.7 1187.2 L1118.5 1190.3 L1121.2 1193.3 L1124.0 1196.3 L1126.8 1199.3 L1129.7 1202.3 L1132.5 1205.3 L1135.4 1208.3 L1138.3 1211.2 L1141.2 1214.1 L1144.1 1217.0 L1147.1 1219.9 L1150.0 1222.7 L1153.0 1225.6 L1156.1 1228.4 L1159.1 1231.2 L1162.1 1234.0 L1165.2 1236.7 L1168.3 1239.5 L1171.4 1242.2 L1174.5 1244.9 L1177.7 1247.6 L1180.8 1250.2 L1184.0 1252.8 L1187.2 1255.5 L1190.4 1258.0 L1193.7 1260.6 L1196.9 1263.2 L1200.2 1265.7 L1203.5 1268.2 L1206.8 1270.7 L1210.1 1273.2 L1213.4 1275.6 L1216.8 1278.0 L1220.2 1280.4 L1223.5 1282.8 L1226.9 1285.2 L1230.3 1287.5 L1233.8 1289.8 L1237.2 1292.1 L1240.7 1294.4 L1244.1 1296.6 L1247.6 1298.8 L1251.1 1301.0 L1254.6 1303.2 L1258.1 1305.4 L1261.7 1307.5 L1265.2 1309.6 L1268.8 1311.7 L1272.4 1313.7 L1276.0 1315.8 L1279.6 1317.8 L1283.2 1319.8 L1286.8 1321.8 L1290.4 1323.7 L1294.1 1325.6 L1297.7 1327.5 L1301.4 1329.4 L1305.1 1331.2 L1308.8 1333.0 L1312.5 1334.8 L1316.2 1336.6 L1319.9 1338.4 L1323.6 1340.1 L1327.4 1341.8 L1331.1 1343.4 L1334.9 1345.1 L1338.6 1346.7 L1342.4 1348.3 L1346.2 1349.9 L1350.0 1351.5 L1353.8 1353.0 L1357.6 1354.5 L1361.4 1356.0 L1365.3 1357.4 L1369.1 1358.9 L1372.9 1360.3 L1376.8 1361.7 L1380.7 1363.1 L1384.5 1364.4 L1388.4 1365.7 L1392.3 1367.0 L1396.2 1368.3 L1400.1 1369.6 L1404.0 1370.8 L1407.9 1372.1 L1411.8 1373.3 L1415.8 1374.5 L1419.7 1375.6 L1423.6 1376.8 L1427.6 1377.9 L1431.5 1379.0 L1435.5 1380.1 L1439.5 1381.2 L1443.4 1382.2 L1447.4 1383.2 L1451.4 1384.2 L1455.4 1385.2 L1459.4 1386.2 L1463.4 1387.2 L1467.4 1388.1 L1471.4 1389.0 L1475.4 1389.9 L1479.5 1390.8 L1483.5 1391.7 L1487.5 1392.6 L1491.6 1393.4 L1495.6 1394.2 L1499.7 1395.0 L1503.7 1395.8 L1507.8 1396.6 L1511.8 1397.4 L1515.9 1398.1 L1520.0 1398.8 L1524.0 1399.5 L1528.1 1400.3 L1532.2 1400.9 L1536.3 1401.6 L1540.4 1402.3 L1544.5 1402.9 L1548.6 1403.5 L1552.7 1404.2 L1556.8 1404.8 L1560.9 1405.4 L1565.0 1405.9 L1569.1 1406.5 L1573.2 1407.1 L1577.3 1407.6 L1581.4 1408.1 L1585.5 1408.7 L1589.7 1409.2 L1593.8 1409.7 L1597.9 1410.1 L1602.0 1410.6 L1606.2 1411.1 L1610.3 1411.5 L1614.4 1412.0 L1618.5 1412.4 L1622.7 1412.8 L1626.8 1413.2 L1630.9 1413.6 L1635.1 1414.0 L1639.2 1414.4 L1643.3 1414.8 L1647.5 1415.1 L1651.6 1415.5 L1655.8 1415.8 L1659.9 1416.2 L1664.0 1416.5 L1668.2 1416.8 L1672.3 1417.2 L1676.4 1417.5 L1680.6 1417.8 L1684.7 1418.1 L1688.9 1418.4 L1693.0 1418.6 L1697.1 1418.9 L1701.3 1419.2 L1705.4 1419.4 L1709.5 1419.7 L1713.6 1419.9 L1717.8 1420.2 L1721.9 1420.4 L1726.0 1420.7 L1730.1 1420.9 L1734.3 1421.1 L1738.4 1421.3 L1742.5 1421.6 L1746.6 1421.8 L1750.7 1422.0 L1754.8 1422.2 L1758.9 1422.4 L1763.0 1422.6 L1767.1 1422.8 L1771.2 1423.0 L1775.3 1423.2 L1779.4 1423.4 L1783.5 1423.5 L1787.6 1423.7 L1791.7 1423.9 L1795.8 1424.1 L1799.8 1424.3 L1803.9 1424.4 L1808.0 1424.6 L1812.0 1424.8 L1816.1 1425.0 L1820.1 1425.1 L1824.2 1425.3 L1828.2 1425.5 L1832.3 1425.7 L1836.3 1425.8 L1840.3 1426.0 L1844.3 1426.2 L1848.4 1426.4" stroke="#00ff00"/>
<path d="M283.1 1427.7 L287.4 1427.5 L291.5 1426.9 L295.4 1425.9 L299.2 1424.6 L302.7 1423.0 L306.1 1421.1 L309.4 1418.9 L312.4 1416.5 L315.4 1413.9 L318.1 1411.2 L320.8 1408.2 L323.3 1405.2 L325.7 1402.0 L328.0 1398.8 L330.2 1395.5 L332.3 1392.2 L334.3 1388.8 L336.2 1385.4 L338.0 1381.9 L339.7 1378.4 L341.4 1374.9 L342.9 1371.3 L344.4 1367.6 L345.8 1364.0 L347.2 1360.3 L348.5 1356.6 L349.7 1352.8 L350.9 1349.0 L352.0 1345.2 L353.0 1341.4 L354.1 1337.6 L355.0 1333.7 L356.0 1329.8 L356.9 1325.9 L357.8 1322.0 L358.6 1318.1 L359.5 1314.2 L360.3 1310.3 L361.1 1306.4 L361.9 1302.5 L362.6 1298.6 L363.4 1294.7 L364.2 1290.8 L365.0 1286.9 L365.7 1283.0 L366.5 1279.1 L367.2 1275.2 L368.0 1271.3 L368.7 1267.4 L369.5 1263.6 L370.2 1259.7 L371.0 1255.8 L371.7 1252.0 L372.5 1248.1 L373.2 1244.2 L373.9 1240.4 L374.6 1236.5 L375.4 1232.7 L376.1 1228.8 L376.8 1225.0 L377.5 1221.1 L378.2 1217.3 L378.9 1213.4 L379.7 1209.6 L380.4 1205.7 L381.1 1201.9 L381.8 1198.0 L382.5 1194.2 L383.2 1190.3 L383.9 1186.5 L384.6 1182.6 L385.3 1178.8 L386.0 1174.9 L386.7 1171.1 L387.4 1167.2 L388.0 1163.4 L388.7 1159.5 L389.4 1155.7 L390.1 1151.8 L390.8 1148.0 L391.5 1144.1 L392.2 1140.2 L392.9 1136.4 L393.6 1132.5 L394.3 1128.6 L395.0 1124.7 L395.7 1120.9 L396.3 1117.0 L397.0 1113.1 L397.7 1109.2 L398.4 1105.3 L399.1 1101.4 L399.8 1097.5 L400.5 1093.6 L401.2 1089.7 L401.9 1085.8 L402.6 1081.8 L403.3 1077.9 L404.0 1074.0 L404.7 1070.0 L405.4 1066.1 L406.1 1062.1 L406.8 1058.2 L407.5 1054.2 L408.3 1050.3 L409.0 1046.3 L409.7 1042.3 L410.4 1038.3 L411.1 1034.3 L411.9 1030.3 L412.7 1026.3 L413.5 1022.4 L414.4 1018.5 L415.3 1014.6 L416.4 1010.8 L417.6 1007.1 L418.8 1003.5 L420.2 999.9 L421.8 996.5 L423.5 993.1 L425.4 989.9 L427.4 986.8 L429.7 983.9 L432.2 981.1 L434.9 978.5 L437.8 976.0 L441.0 973.7 L444.2 971.5 L447.5 969.3 L450.7 967.0 L453.8 964.7 L456.7 962.2 L459.5 959.5 L462.0 956.7 L464.3 953.7 L466.5 950.6 L468.5 947.4 L470.4 944.0 L472.1 940.6 L473.7 937.1 L475.2 933.4 L476.6 929.8 L478.0 926.0 L479.2 922.2 L480.4 918.4 L481.6 914.6 L482.7 910.7 L483.8 906.9 L484.9 903.0 L486.0 899.2 L487.1 895.4 L488.1 891.5 L489.2 887.7 L490.2 883.8 L491.2 880.0 L492.3 876.2 L493.3 872.4 L494.3 868.5 L495.3 864.7 L496.2 860.9 L497.2 857.0 L498.2 853.2 L499.1 849.4 L500.0 845.6 L501.0 841.7 L501.9 837.9 L502.8 834.1 L503.7 830.2 L504.6 826.4 L505.5 822.6 L506.4 818.7 L507.3 814.9 L508.2 811.0 L509.0 807.2 L509.9 803.4 L510.7 799.5 L511.6 795.7 L512.4 791.8 L513.3 788.0 L514.1 784.1 L514.9 780.3 L515.7 776.4 L516.6 772.6 L517.4 768.7 L518.2 764.9 L519.0 761.0 L519.8 757.2 L520.6 753.3 L521.3 749.5 L522.1 745.6 L522.9 741.7 L523.7 737.9 L524.5 734.0 L525.2 730.2 L526.0 726.3 L526.8 722.4 L527.5 718.6 L528.3 714.7 L529.0 710.8 L529.8 707.0 L530.5 703.1 L531.3 699.2 L532.0 695.4 L532.8 691.5 L533.5 687.6 L534.3 683.7 L535.0 679.9 L535.8 676.0 L536.5 672.1 L537.2 668.2 L538.0 664.4 L538.7 660.5 L539.5 656.6 L540.2 652.7 L541.0 648.9 L541.7 645.0 L542.4 641.1 L543.2 637.2 L543.9 633.3 L544.7 629.4 L545.4 625.6 L546.2 621.7 L546.9 617.8 L547.7 613.9 L548.4 610.0 L549.2 606.1 L550.0 602.3 L550.7 598.4 L551.5 594.5 L552.3 590.6 L553.0 586.7 L553.8 582.8 L554.6 578.9 L555.5 575.1 L556.3 571.2 L557.3 567.4 L558.2 563.5 L559.2 559.7 L560.3 555.9 L561.5 552.1 L562.7 548.4 L564.0 544.6 L565.4 540.9 L566.9 537.2 L568.5 533.6 L570.2 530.0 L572.0 526.4 L573.9 522.9 L576.0 519.4 L578.2 516.0 L580.6 512.9 L583.1 510.1 L585.7 507.8 L588.4 506.1 L591.3 505.2 L594.3 505.2 L597.3 506.1 L600.5 507.6 L603.6 509.8 L606.7 512.5 L609.8 515.7 L612.7 519.1 L615.6 522.6 L618.2 526.3 L620.7 530.0 L623.1 533.6 L625.4 537.2 L627.7 540.7 L630.0 544.0 L632.3 547.2 L634.8 550.2 L637.5 553.0 L640.4 555.5 L643.5 557.7 L646.9 559.5 L650.4 560.9 L653.9 561.8 L657.4 562.1 L660.8 561.8 L664.1 560.9 L667.3 559.5 L670.4 557.7 L673.5 555.5 L676.6 553.1 L679.7 550.4 L682.8 547.6 L686.1 544.7 L689.4 541.8 L692.7 539.0 L696.2 536.2 L699.7 533.6 L703.3 531.3 L706.9 529.1 L710.5 527.3 L714.1 525.9 L717.7 524.9 L721.3 524.4 L724.9 524.4 L728.4 524.9 L731.9 526.1 L735.3 527.9 L738.6 530.0 L741.8 532.5 L744.9 535.1 L747.8 537.8 L750.5 540.6 L753.1 543.5 L755.6 546.5 L757.9 549.6 L760.1 552.8 L762.2 556.0 L764.2 559.4 L766.1 562.7 L767.9 566.2 L769.6 569.7 L771.2 573.3 L772.7 576.9 L774.2 580.6 L775.6 584.3 L776.9 588.0 L778.2 591.8 L779.5 595.6 L780.7 599.4 L781.9 603.3 L783.0 607.2 L784.2 611.1 L785.3 614.9 L786.4 618.8 L787.5 622.7 L788.7 626.6 L789.8 630.5 L791.0 634.3 L792.2 638.2 L793.4 642.0 L794.6 645.8 L795.9 649.6 L797.1 653.4 L798.4 657.1 L799.7 660.9 L801.1 664.6 L802.4 668.3 L803.8 672.0 L805.2 675.7 L806.6 679.4 L808.1 683.1 L809.5 686.7 L811.0 690.4 L812.5 694.0 L814.0 697.6 L815.5 701.2 L817.1 704.8 L818.7 708.4 L820.2 712.0 L821.8 715.5 L823.4 719.1 L825.1 722.7 L826.7 726.2 L828.4 729.7 L830.0 733.2 L831.7 736.8 L833.4 740.3 L835.2 743.8 L836.9 747.3 L838.6 750.7 L840.4 754.2 L842.2 757.7 L844.0 761.2 L845.8 764.6 L847.6 768.1 L849.4 771.5 L851.2 775.0 L853.1 778.4 L854.9 781.9 L856.8 785.3 L858.6 788.7 L860.5 792.2 L862.4 795.6 L864.3 799.0 L866.2 802.4 L868.2 805.8 L870.1 809.3 L872.0 812.7 L874.0 816.1 L875.9 819.5 L877.9 822.9 L879.8 826.3 L881.8 829.8 L883.8 833.2 L885.8 836.6 L887.8 840.0 L889.8 843.4 L891.8 846.9 L893.8 850.3 L895.8 853.7 L897.8 857.1 L899.8 860.5 L901.8 864.0 L903.9 867.4 L905.9 870.8 L907.9 874.2 L909.9 877.6 L912.0 881.1 L914.0 884.5 L916.0 887.9 L918.0 891.3 L920.1 894.7 L922.1 898.2 L924.1 901.6 L926.1 905.0 L928.2 908.4 L930.2 911.8 L932.2 915.2 L934.2 918.6 L936.2 922.1 L938.2 925.5 L940.2 928.9 L942.2 932.3 L944.2 935.7 L946.2 939.1 L948.2 942.5 L950.1 945.9 L952.1 949.3 L954.1 952.7 L956.0 956.1 L958.0 959.4 L959.9 962.8 L961.8 966.2 L963.8 969.6 L965.7 973.0 L967.6 976.4 L969.5 979.8 L971.5 983.1 L973.4 986.5 L975.3 989.9 L977.2 993.3 L979.1 996.7 L981.1 1000.1 L983.0 1003.4 L984.9 1006.8 L986.8 1010.2 L988.8 1013.6 L990.7 1017.0 L992.6 1020.4 L994.6 1023.8 L996.5 1027.2 L998.4 1030.6 L1000.4 1034.0 L1002.4 1037.4 L1004.3 1040.8 L1006.3 1044.2 L1008.3 1047.6 L1010.3 1051.0 L1012.3 1054.4 L1014.3 1057.8 L1016.3 1061.3 L1018.3 1064.7 L1020.3 1068.1 L1022.3 1071.5 L1024.4 1074.9 L1026.4 1078.3 L1028.5 1081.7 L1030.5 1085.0 L1032.6 1088.4 L1034.7 1091.8 L1036.8 1095.2 L1038.9 1098.6 L1041.0 1101.9 L1043.2 1105.3 L1045.3 1108.6 L1047.5 1112.0 L1049.6 1115.3 L1051.8 1118.6 L1054.0 1122.0 L1056.2 1125.3 L1058.4 1128.6 L1060.6 1131.9 L1062.9 1135.1 L1065.1 1138.4 L1067.4 1141.7 L1069.7 1144.9 L1072.0 1148.2 L1074.3 1151.4 L1076.6 1154.6 L1079.0 1157.8 L1081.3 1161.0 L1083.7 1164.2 L1086.1 1167.3 L1088.5 1170.5 L1090.9 1173.6 L1093.3 1176.7 L1095.8 1179.8 L1098.3 1182.9 L1100.8 1186.0 L1103.3 1189.0 L1105.8 1192.0 L1108.3 1195.1 L1110.9 1198.1 L1113.5 1201.0 L1116.1 1204.0 L1118.7 1206.9 L1121.3 1209.9 L1124.0 1212.8 L1126.7 1215.6 L1129.4 1218.5 L1132.1 1221.3 L1134.8 1224.1 L1137.6 1226.9 L1140.4 1229.7 L1143.2 1232.4 L1146.0 1235.2 L1148.9 1237.9 L1151.7 1240.5 L1154.6 1243.2 L1157.6 1245.8 L1160.5 1248.4 L1163.5 1251.0 L1166.4 1253.5 L1169.4 1256.1 L1172.5 1258.6 L1175.5 1261.0 L1178.6 1263.5 L1181.7 1265.9 L1184.8 1268.3 L1187.9 1270.7 L1191.0 1273.1 L1194.2 1275.4 L1197.4 1277.7 L1200.6 1280.0 L1203.8 1282.3 L1207.0 1284.5 L1210.3 1286.7 L1213.5 1288.9 L1216.8 1291.1 L1220.1 1293.3 L1223.4 1295.4 L1226.7 1297.5 L1230.1 1299.6 L1233.5 1301.6 L1236.8 1303.7 L1240.2 1305.7 L1243.6 1307.7 L1247.0 1309.7 L1250.5 1311.6 L1253.9 1313.6 L1257.4 1315.5 L1260.9 1317.4 L1264.3 1319.2 L1267.8 1321.1 L1271.4 1322.9 L1274.9 1324.7 L1278.4 1326.5 L1282.0 1328.2 L1285.5 1330.0 L1289.1 1331.7 L1292.6 1333.4 L1296.2 1335.0 L1299.8 1336.7 L1303.4 1338.3 L1307.1 1339.9 L1310.7 1341.5 L1314.3 1343.1 L1317.9 1344.7 L1321.6 1346.2 L1325.3 1347.7 L1328.9 1349.2 L1332.6 1350.7 L1336.3 1352.1 L1339.9 1353.5 L1343.6 1355.0 L1347.3 1356.4 L1351.0 1357.7 L1354.7 1359.1 L1358.5 1360.4 L1362.2 1361.7 L1365.9 1363.0 L1369.6 1364.3 L1373.4 1365.6 L1377.1 1366.8 L1380.9 1368.0 L1384.6 1369.2 L1388.4 1370.4 L1392.1 1371.6 L1395.9 1372.8 L1399.7 1373.9 L1403.5 1375.0 L1407.3 1376.1 L1411.0 1377.2 L1414.8 1378.3 L1418.6 1379.3 L1422.4 1380.3 L1426.2 1381.4 L1430.1 1382.4 L1433.9 1383.4 L1437.7 1384.3 L1441.5 1385.3 L1445.3 1386.2 L1449.2 1387.1 L1453.0 1388.0 L1456.9 1388.9 L1460.7 1389.8 L1464.5 1390.7 L1468.4 1391.5 L1472.3 1392.4 L1476.1 1393.2 L1480.0 1394.0 L1483.8 1394.8 L1487.7 1395.5 L1491.6 1396.3 L1495.4 1397.1 L1499.3 1397.8 L1503.2 1398.5 L1507.1 1399.2 L1511.0 1399.9 L1514.8 1400.6 L1518.7 1401.3 L1522.6 1401.9 L1526.5 1402.6 L1530.4 1403.2 L1534.3 1403.8 L1538.2 1404.4 L1542.1 1405.0 L1546.0 1405.6 L1549.9 1406.2 L1553.8 1406.7 L1557.7 1407.3 L1561.6 1407.8 L1565.6 1408.4 L1569.5 1408.9 L1573.4 1409.4 L1577.3 1409.9 L1581.2 1410.4 L1585.1 1410.8 L1589.0 1411.3 L1593.0 1411.7 L1596.9 1412.2 L1600.8 1412.6 L1604.7 1413.0 L1608.7 1413.5 L1612.6 1413.9 L1616.5 1414.3 L1620.4 1414.6 L1624.4 1415.0 L1628.3 1415.4 L1632.2 1415.8 L1636.2 1416.1 L1640.1 1416.5 L1644.0 1416.8 L1648.0 1417.1 L1651.9 1417.5 L1655.8 1417.8 L1659.8 1418.1 L1663.7 1418.4 L1667.6 1418.7 L1671.6 1419.0 L1675.5 1419.2 L1679.5 1419.5 L1683.4 1419.8 L1687.3 1420.0 L1691.3 1420.3 L1695.2 1420.5 L1699.2 1420.8 L1703.1 1421.0 L1707.0 1421.2 L1711.0 1421.5 L1714.9 1421.7 L1718.9 1421.9 L1722.8 1422.1 L1726.8 1422.3 L1730.7 1422.5 L1734.7 1422.7 L1738.6 1422.9 L1742.5 1423.1 L1746.5 1423.3 L1750.4 1423.5 L1754.4 1423.7 L1758.3 1423.8 L1762.3 1424.0 L1766.2 1424.2 L1770.2 1424.3 L1774.1 1424.5 L1778.0 1424.6 L1782.0 1424.8 L1785.9 1425.0 L1789.9 1425.1 L1793.8 1425.3 L1797.8 1425.4 L1801.7 1425.6 L1805.6 1425.7 L1809.6 1425.8 L1813.5 1426.0 L1817.5 1426.1 L1821.4 1426.3 L1825.4 1426.4 L1829.3 1426.5 L1833.2 1426.7 L1837.2 1426.8 L1841.1 1427.0 L1845.0 1427.1 L1849.0 1427.2" stroke="#0000ff"/>
<path d="M282.6 1428.6 L287.1 1428.2 L291.4 1427.6 L295.4 1426.7 L299.2 1425.6 L302.8 1424.2 L306.2 1422.7 L309.4 1420.9 L312.5 1419.0 L315.4 1416.8 L318.1 1414.5 L320.6 1412.1 L323.0 1409.5 L325.3 1406.7 L327.4 1403.8 L329.5 1400.9 L331.4 1397.8 L333.2 1394.6 L334.9 1391.3 L336.6 1388.0 L338.2 1384.6 L339.7 1381.1 L341.1 1377.6 L342.5 1374.1 L343.9 1370.6 L345.2 1367.0 L346.5 1363.5 L347.8 1359.9 L349.0 1356.4 L350.3 1352.8 L351.5 1349.2 L352.6 1345.7 L353.8 1342.1 L354.9 1338.5 L356.0 1335.0 L357.1 1331.4 L358.1 1327.8 L359.2 1324.2 L360.2 1320.7 L361.2 1317.1 L362.2 1313.5 L363.1 1309.9 L364.1 1306.3 L365.0 1302.7 L365.9 1299.1 L366.8 1295.5 L367.6 1291.9 L368.5 1288.3 L369.3 1284.7 L370.1 1281.1 L370.9 1277.5 L371.7 1273.8 L372.5 1270.2 L373.3 1266.6 L374.0 1263.0 L374.8 1259.4 L375.5 1255.7 L376.2 1252.1 L377.0 1248.5 L377.7 1244.8 L378.4 1241.2 L379.0 1237.5 L379.7 1233.9 L380.4 1230.3 L381.1 1226.6 L381.7 1223.0 L382.4 1219.3 L383.0 1215.7 L383.7 1212.0 L384.3 1208.4 L385.0 1204.7 L385.6 1201.1 L386.2 1197.4 L386.9 1193.7 L387.5 1190.1 L388.2 1186.4 L388.8 1182.7 L389.4 1179.1 L390.1 1175.4 L390.7 1171.7 L391.3 1168.1 L392.0 1164.4 L392.6 1160.7 L393.3 1157.0 L393.9 1153.3 L394.6 1149.7 L395.3 1146.0 L396.0 1142.3 L396.6 1138.6 L397.3 1134.9 L398.0 1131.3 L398.7 1127.6 L399.4 1123.9 L400.2 1120.2 L400.9 1116.5 L401.7 1112.8 L402.4 1109.1 L403.2 1105.4 L404.0 1101.7 L404.8 1098.0 L405.6 1094.3 L406.4 1090.6 L407.2 1086.9 L408.1 1083.2 L409.0 1079.5 L409.9 1075.8 L410.8 1072.1 L411.7 1068.5 L412.7 1064.8 L413.7 1061.2 L414.7 1057.6 L415.8 1054.0 L417.0 1050.5 L418.2 1047.0 L419.5 1043.6 L420.8 1040.3 L422.3 1037.0 L423.8 1033.8 L425.3 1030.7 L427.0 1027.7 L428.8 1024.8 L430.7 1022.0 L432.7 1019.3 L434.9 1016.7 L437.3 1014.2 L439.9 1011.9 L442.7 1009.6 L445.7 1007.5 L448.9 1005.5 L452.1 1003.4 L455.3 1001.3 L458.5 999.2 L461.5 997.0 L464.3 994.6 L466.9 992.1 L469.3 989.3 L471.4 986.4 L473.3 983.4 L475.0 980.2 L476.5 976.9 L477.9 973.5 L479.1 970.0 L480.3 966.4 L481.3 962.8 L482.4 959.1 L483.3 955.4 L484.3 951.7 L485.2 948.0 L486.2 944.3 L487.2 940.6 L488.2 937.0 L489.3 933.3 L490.4 929.7 L491.4 926.1 L492.5 922.5 L493.6 918.9 L494.7 915.3 L495.8 911.7 L496.9 908.1 L498.0 904.6 L499.1 901.0 L500.2 897.4 L501.3 893.9 L502.4 890.3 L503.5 886.7 L504.5 883.2 L505.5 879.6 L506.5 876.1 L507.5 872.5 L508.5 868.9 L509.4 865.3 L510.4 861.7 L511.3 858.1 L512.2 854.6 L513.0 851.0 L513.9 847.4 L514.7 843.8 L515.6 840.1 L516.4 836.5 L517.2 832.9 L518.0 829.3 L518.7 825.7 L519.5 822.1 L520.2 818.4 L521.0 814.8 L521.7 811.2 L522.4 807.5 L523.2 803.9 L523.9 800.3 L524.6 796.6 L525.3 793.0 L526.0 789.3 L526.7 785.7 L527.3 782.1 L528.0 778.4 L528.7 774.7 L529.4 771.1 L530.0 767.4 L530.7 763.8 L531.4 760.1 L532.1 756.5 L532.7 752.8 L533.4 749.1 L534.1 745.5 L534.8 741.8 L535.5 738.1 L536.2 734.5 L536.9 730.8 L537.6 727.1 L538.3 723.5 L539.0 719.8 L539.7 716.1 L540.4 712.5 L541.2 708.8 L541.9 705.1 L542.7 701.5 L543.5 697.8 L544.2 694.1 L545.0 690.4 L545.9 686.8 L546.7 683.1 L547.5 679.4 L548.4 675.8 L549.2 672.1 L550.1 668.4 L551.0 664.8 L552.0 661.1 L552.9 657.4 L553.9 653.8 L554.8 650.1 L555.8 646.4 L556.9 642.8 L557.9 639.1 L559.0 635.5 L560.1 631.9 L561.3 628.3 L562.6 624.7 L564.0 621.3 L565.5 617.9 L567.2 614.7 L569.0 611.6 L571.1 608.6 L573.4 605.8 L575.9 603.2 L578.7 600.8 L581.7 598.6 L585.1 596.6 L588.6 595.1 L592.0 594.2 L595.2 594.1 L598.1 594.8 L600.9 596.2 L603.4 598.1 L605.8 600.6 L608.1 603.6 L610.3 606.8 L612.6 610.2 L614.9 613.7 L617.2 617.3 L619.7 620.8 L622.3 624.2 L624.9 627.5 L627.7 630.6 L630.5 633.5 L633.3 636.2 L636.2 638.7 L639.2 640.8 L642.1 642.6 L645.2 644.0 L648.2 645.0 L651.2 645.6 L654.2 645.7 L657.3 645.3 L660.3 644.4 L663.3 643.1 L666.3 641.4 L669.4 639.5 L672.5 637.3 L675.6 635.0 L678.8 632.5 L682.0 630.0 L685.3 627.4 L688.6 624.9 L692.0 622.5 L695.5 620.2 L699.0 618.0 L702.5 616.1 L706.0 614.4 L709.4 612.9 L712.9 611.8 L716.3 611.0 L719.7 610.7 L723.1 610.7 L726.3 611.2 L729.5 612.1 L732.7 613.4 L735.7 615.1 L738.7 617.0 L741.6 619.2 L744.4 621.7 L747.2 624.3 L749.9 627.1 L752.4 630.0 L754.9 632.9 L757.4 635.9 L759.7 639.0 L761.9 642.1 L764.1 645.2 L766.2 648.3 L768.2 651.5 L770.2 654.7 L772.1 657.9 L773.9 661.2 L775.7 664.5 L777.4 667.8 L779.1 671.1 L780.8 674.4 L782.3 677.8 L783.9 681.1 L785.4 684.5 L786.9 687.9 L788.4 691.3 L789.8 694.8 L791.2 698.2 L792.6 701.6 L794.0 705.1 L795.3 708.5 L796.7 712.0 L798.1 715.5 L799.4 718.9 L800.8 722.4 L802.1 725.9 L803.5 729.3 L804.9 732.8 L806.3 736.2 L807.7 739.7 L809.2 743.1 L810.6 746.6 L812.1 750.0 L813.6 753.4 L815.1 756.8 L816.6 760.2 L818.1 763.7 L819.6 767.1 L821.2 770.5 L822.7 773.9 L824.3 777.3 L825.8 780.7 L827.4 784.0 L829.0 787.4 L830.6 790.8 L832.2 794.2 L833.8 797.5 L835.4 800.9 L837.1 804.2 L838.7 807.6 L840.3 810.9 L842.0 814.3 L843.6 817.6 L845.3 820.9 L846.9 824.3 L848.6 827.6 L850.2 830.9 L851.9 834.2 L853.6 837.5 L855.2 840.8 L856.9 844.1 L858.6 847.4 L860.3 850.6 L862.1 853.9 L863.8 857.2 L865.5 860.4 L867.3 863.7 L869.0 866.9 L870.8 870.1 L872.6 873.4 L874.4 876.6 L876.2 879.8 L878.1 883.0 L879.9 886.1 L881.8 889.3 L883.7 892.5 L885.6 895.6 L887.6 898.8 L889.5 901.9 L891.5 905.0 L893.5 908.1 L895.5 911.2 L897.5 914.3 L899.6 917.4 L901.7 920.4 L903.8 923.5 L905.9 926.5 L908.1 929.5 L910.2 932.5 L912.4 935.5 L914.6 938.6 L916.8 941.6 L919.0 944.6 L921.2 947.6 L923.4 950.6 L925.7 953.6 L927.9 956.6 L930.1 959.6 L932.3 962.6 L934.5 965.6 L936.7 968.6 L938.9 971.7 L941.0 974.7 L943.2 977.7 L945.3 980.8 L947.5 983.9 L949.6 987.0 L951.6 990.1 L953.7 993.2 L955.7 996.3 L957.7 999.5 L959.7 1002.7 L961.7 1005.8 L963.6 1009.0 L965.5 1012.2 L967.5 1015.4 L969.4 1018.6 L971.3 1021.9 L973.1 1025.1 L975.0 1028.3 L976.9 1031.6 L978.7 1034.8 L980.6 1038.1 L982.4 1041.3 L984.3 1044.6 L986.1 1047.8 L988.0 1051.1 L989.8 1054.3 L991.7 1057.6 L993.6 1060.8 L995.4 1064.1 L997.3 1067.3 L999.2 1070.6 L1001.1 1073.8 L1003.0 1077.0 L1004.9 1080.2 L1006.8 1083.4 L1008.8 1086.6 L1010.7 1089.8 L1012.7 1093.0 L1014.7 1096.1 L1016.7 1099.3 L1018.7 1102.4 L1020.8 1105.6 L1022.9 1108.7 L1024.9 1111.8 L1027.0 1114.9 L1029.1 1118.0 L1031.3 1121.0 L1033.4 1124.1 L1035.6 1127.1 L1037.7 1130.2 L1039.9 1133.2 L1042.1 1136.2 L1044.3 1139.2 L1046.6 1142.2 L1048.8 1145.2 L1051.1 1148.1 L1053.4 1151.1 L1055.7 1154.0 L1058.0 1156.9 L1060.3 1159.8 L1062.7 1162.7 L1065.0 1165.6 L1067.4 1168.5 L1069.8 1171.3 L1072.2 1174.2 L1074.6 1177.0 L1077.1 1179.8 L1079.5 1182.6 L1082.0 1185.4 L1084.5 1188.2 L1087.0 1190.9 L1089.5 1193.7 L1092.0 1196.4 L1094.6 1199.1 L1097.1 1201.8 L1099.7 1204.5 L1102.3 1207.1 L1104.9 1209.8 L1107.5 1212.4 L1110.1 1215.0 L1112.8 1217.7 L1115.5 1220.2 L1118.1 1222.8 L1120.8 1225.4 L1123.5 1227.9 L1126.3 1230.4 L1129.0 1233.0 L1131.8 1235.5 L1134.5 1237.9 L1137.3 1240.4 L1140.1 1242.8 L1142.9 1245.3 L1145.7 1247.7 L1148.6 1250.1 L1151.4 1252.4 L1154.3 1254.8 L1157.2 1257.1 L1160.1 1259.5 L1163.0 1261.8 L1165.9 1264.1 L1168.8 1266.3 L1171.8 1268.6 L1174.8 1270.8 L1177.7 1273.1 L1180.7 1275.3 L1183.7 1277.4 L1186.8 1279.6 L1189.8 1281.7 L1192.8 1283.9 L1195.9 1286.0 L1199.0 1288.1 L1202.1 1290.1 L1205.2 1292.2 L1208.3 1294.2 L1211.4 1296.2 L1214.6 1298.2 L1217.7 1300.2 L1220.9 1302.2 L1224.1 1304.1 L1227.3 1306.0 L1230.5 1307.9 L1233.7 1309.8 L1236.9 1311.7 L1240.2 1313.5 L1243.4 1315.3 L1246.7 1317.1 L1250.0 1318.9 L1253.3 1320.7 L1256.6 1322.4 L1259.9 1324.2 L1263.2 1325.9 L1266.5 1327.6 L1269.9 1329.3 L1273.2 1330.9 L1276.6 1332.6 L1279.9 1334.2 L1283.3 1335.8 L1286.7 1337.4 L1290.1 1338.9 L1293.5 1340.5 L1296.9 1342.0 L1300.3 1343.5 L1303.7 1345.0 L1307.2 1346.5 L1310.6 1348.0 L1314.1 1349.4 L1317.5 1350.8 L1321.0 1352.2 L1324.4 1353.6 L1327.9 1355.0 L1331.4 1356.4 L1334.9 1357.7 L1338.4 1359.0 L1341.9 1360.3 L1345.4 1361.6 L1348.9 1362.9 L1352.4 1364.1 L1355.9 1365.4 L1359.4 1366.6 L1363.0 1367.8 L1366.5 1368.9 L1370.0 1370.1 L1373.6 1371.3 L1377.1 1372.4 L1380.7 1373.5 L1384.2 1374.6 L1387.8 1375.7 L1391.4 1376.7 L1394.9 1377.8 L1398.5 1378.8 L1402.1 1379.8 L1405.6 1380.8 L1409.2 1381.8 L1412.8 1382.8 L1416.4 1383.7 L1420.0 1384.7 L1423.6 1385.6 L1427.2 1386.5 L1430.8 1387.4 L1434.4 1388.3 L1438.0 1389.2 L1441.6 1390.0 L1445.2 1390.8 L1448.9 1391.7 L1452.5 1392.5 L1456.1 1393.3 L1459.7 1394.1 L1463.4 1394.8 L1467.0 1395.6 L1470.6 1396.3 L1474.3 1397.1 L1477.9 1397.8 L1481.6 1398.5 L1485.2 1399.2 L1488.9 1399.8 L1492.5 1400.5 L1496.2 1401.2 L1499.9 1401.8 L1503.5 1402.4 L1507.2 1403.1 L1510.9 1403.7 L1514.5 1404.3 L1518.2 1404.8 L1521.9 1405.4 L1525.6 1406.0 L1529.2 1406.5 L1532.9 1407.1 L1536.6 1407.6 L1540.3 1408.1 L1544.0 1408.6 L1547.7 1409.1 L1551.4 1409.6 L1555.1 1410.1 L1558.8 1410.6 L1562.5 1411.0 L1566.2 1411.5 L1569.9 1411.9 L1573.6 1412.4 L1577.3 1412.8 L1581.0 1413.2 L1584.7 1413.6 L1588.4 1414.0 L1592.1 1414.4 L1595.8 1414.8 L1599.5 1415.1 L1603.3 1415.5 L1607.0 1415.9 L1610.7 1416.2 L1614.4 1416.5 L1618.1 1416.9 L1621.9 1417.2 L1625.6 1417.5 L1629.3 1417.8 L1633.0 1418.1 L1636.7 1418.4 L1640.5 1418.7 L1644.2 1419.0 L1647.9 1419.3 L1651.7 1419.6 L1655.4 1419.8 L1659.1 1420.1 L1662.8 1420.3 L1666.6 1420.6 L1670.3 1420.8 L1674.0 1421.1 L1677.8 1421.3 L1681.5 1421.5 L1685.2 1421.7 L1689.0 1422.0 L1692.7 1422.2 L1696.4 1422.4 L1700.1 1422.6 L1703.9 1422.8 L1707.6 1423.0 L1711.3 1423.2 L1715.1 1423.3 L1718.8 1423.5 L1722.5 1423.7 L1726.3 1423.9 L1730.0 1424.0 L1733.7 1424.2 L1737.4 1424.4 L1741.2 1424.5 L1744.9 1424.7 L1748.6 1424.9 L1752.4 1425.0 L1756.1 1425.2 L1759.8 1425.3 L1763.5 1425.5 L1767.3 1425.6 L1771.0 1425.8 L1774.7 1425.9 L1778.4 1426.0 L1782.1 1426.2 L1785.9 1426.3 L1789.6 1426.4 L1793.3 1426.6 L1797.0 1426.7 L1800.7 1426.9 L1804.4 1427.0 L1808.1 1427.1 L1811.8 1427.3 L1815.6 1427.4 L1819.3 1427.5 L1823.0 1427.7 L1826.7 1427.8 L1830.4 1427.9 L1834.1 1428.1 L1837.8 1428.2 L1841.5 1428.3 L1845.2 1428.5 L1848.9 1428.6" stroke="#00ffff"/>
<path d="M282.7 1429.7 L286.9 1429.5 L291.0 1429.0 L294.8 1428.4 L298.5 1427.5 L302.0 1426.4 L305.3 1425.2 L308.5 1423.7 L311.5 1422.1 L314.3 1420.3 L317.0 1418.4 L319.6 1416.3 L322.0 1414.0 L324.3 1411.7 L326.5 1409.2 L328.6 1406.6 L330.5 1403.8 L332.4 1401.0 L334.2 1398.1 L335.9 1395.1 L337.5 1392.1 L339.1 1389.0 L340.6 1385.8 L342.0 1382.6 L343.4 1379.4 L344.7 1376.1 L346.0 1372.8 L347.3 1369.5 L348.6 1366.2 L349.8 1362.9 L351.0 1359.6 L352.2 1356.3 L353.4 1353.0 L354.6 1349.7 L355.7 1346.4 L356.8 1343.1 L357.9 1339.8 L359.0 1336.5 L360.1 1333.2 L361.1 1329.9 L362.1 1326.6 L363.2 1323.3 L364.2 1319.9 L365.1 1316.6 L366.1 1313.3 L367.1 1310.0 L368.0 1306.7 L368.9 1303.4 L369.8 1300.0 L370.7 1296.7 L371.6 1293.4 L372.5 1290.0 L373.3 1286.7 L374.2 1283.4 L375.0 1280.0 L375.8 1276.7 L376.6 1273.3 L377.4 1270.0 L378.2 1266.6 L379.0 1263.3 L379.7 1259.9 L380.5 1256.6 L381.2 1253.2 L382.0 1249.8 L382.7 1246.4 L383.4 1243.1 L384.1 1239.7 L384.8 1236.3 L385.5 1232.9 L386.2 1229.5 L386.8 1226.1 L387.5 1222.7 L388.2 1219.3 L388.8 1215.9 L389.5 1212.5 L390.1 1209.0 L390.8 1205.6 L391.4 1202.2 L392.0 1198.7 L392.6 1195.3 L393.3 1191.8 L393.9 1188.4 L394.5 1184.9 L395.1 1181.4 L395.7 1177.9 L396.3 1174.5 L396.9 1171.0 L397.6 1167.5 L398.2 1164.0 L398.8 1160.5 L399.5 1157.0 L400.1 1153.6 L400.8 1150.1 L401.5 1146.6 L402.2 1143.2 L403.0 1139.8 L403.7 1136.4 L404.5 1133.0 L405.4 1129.6 L406.3 1126.2 L407.2 1122.9 L408.2 1119.6 L409.2 1116.4 L410.2 1113.1 L411.3 1109.9 L412.5 1106.7 L413.7 1103.6 L415.0 1100.5 L416.4 1097.4 L417.8 1094.4 L419.2 1091.4 L420.8 1088.5 L422.4 1085.6 L424.1 1082.8 L426.0 1080.1 L428.0 1077.6 L430.3 1075.2 L432.7 1073.0 L435.4 1070.9 L438.2 1069.0 L441.1 1067.2 L444.0 1065.4 L447.1 1063.6 L450.1 1061.9 L453.1 1060.1 L456.0 1058.3 L458.9 1056.3 L461.6 1054.3 L464.1 1052.1 L466.5 1049.7 L468.7 1047.2 L470.7 1044.5 L472.5 1041.8 L474.3 1038.9 L475.9 1035.8 L477.4 1032.7 L478.8 1029.6 L480.1 1026.3 L481.3 1023.0 L482.4 1019.6 L483.5 1016.2 L484.6 1012.8 L485.6 1009.3 L486.6 1005.9 L487.6 1002.4 L488.6 999.0 L489.6 995.6 L490.6 992.1 L491.6 988.7 L492.6 985.3 L493.6 981.9 L494.6 978.6 L495.6 975.2 L496.6 971.8 L497.5 968.4 L498.5 965.1 L499.5 961.7 L500.4 958.4 L501.4 955.0 L502.4 951.7 L503.3 948.4 L504.3 945.1 L505.2 941.7 L506.2 938.4 L507.1 935.1 L508.0 931.8 L509.0 928.5 L509.9 925.2 L510.8 921.9 L511.8 918.6 L512.7 915.3 L513.6 912.0 L514.5 908.7 L515.4 905.4 L516.3 902.1 L517.2 898.8 L518.1 895.5 L519.0 892.2 L519.9 888.9 L520.8 885.5 L521.7 882.2 L522.6 878.9 L523.4 875.6 L524.3 872.3 L525.2 869.0 L526.0 865.7 L526.9 862.3 L527.8 859.0 L528.6 855.7 L529.4 852.3 L530.3 849.0 L531.1 845.6 L532.0 842.3 L532.8 838.9 L533.6 835.6 L534.4 832.2 L535.2 828.8 L536.1 825.4 L536.9 822.0 L537.7 818.6 L538.5 815.2 L539.3 811.7 L540.0 808.3 L540.8 804.9 L541.6 801.4 L542.4 797.9 L543.1 794.5 L543.9 791.0 L544.7 787.5 L545.4 784.0 L546.2 780.4 L546.9 776.9 L547.7 773.4 L548.4 769.8 L549.2 766.3 L550.0 762.8 L550.8 759.2 L551.6 755.7 L552.5 752.3 L553.5 748.8 L554.5 745.5 L555.5 742.1 L556.7 738.8 L557.9 735.6 L559.2 732.4 L560.5 729.3 L562.0 726.2 L563.6 723.3 L565.3 720.4 L567.1 717.6 L569.0 715.0 L571.1 712.4 L573.3 709.9 L575.6 707.6 L578.1 705.3 L580.8 703.3 L583.6 701.4 L586.5 700.0 L589.5 699.0 L592.5 698.7 L595.6 698.9 L598.6 699.7 L601.6 700.9 L604.5 702.6 L607.2 704.7 L609.9 707.1 L612.5 709.7 L615.0 712.6 L617.5 715.6 L620.0 718.7 L622.4 721.8 L624.8 724.8 L627.3 727.8 L629.8 730.6 L632.3 733.2 L634.9 735.6 L637.5 737.6 L640.2 739.2 L643.0 740.3 L645.9 741.0 L648.9 741.2 L652.0 741.0 L655.2 740.5 L658.4 739.6 L661.6 738.5 L664.9 737.1 L668.1 735.6 L671.4 733.9 L674.7 732.1 L677.9 730.2 L681.1 728.3 L684.4 726.4 L687.5 724.4 L690.7 722.6 L693.9 720.7 L697.0 719.0 L700.2 717.4 L703.3 716.0 L706.4 714.7 L709.5 713.7 L712.6 712.9 L715.7 712.3 L718.7 712.0 L721.8 712.1 L724.8 712.5 L727.8 713.2 L730.8 714.3 L733.8 715.6 L736.8 717.2 L739.7 719.1 L742.5 721.2 L745.4 723.4 L748.1 725.8 L750.8 728.4 L753.4 731.0 L756.0 733.7 L758.5 736.5 L760.8 739.2 L763.1 742.1 L765.4 744.9 L767.5 747.8 L769.6 750.7 L771.6 753.6 L773.5 756.6 L775.4 759.5 L777.2 762.5 L779.0 765.5 L780.7 768.5 L782.4 771.6 L784.0 774.7 L785.5 777.7 L787.1 780.8 L788.6 783.9 L790.0 787.0 L791.5 790.2 L792.9 793.3 L794.2 796.4 L795.6 799.6 L796.9 802.7 L798.3 805.9 L799.6 809.1 L800.9 812.3 L802.2 815.4 L803.5 818.6 L804.8 821.8 L806.1 824.9 L807.4 828.1 L808.8 831.3 L810.1 834.4 L811.5 837.6 L812.9 840.7 L814.3 843.9 L815.7 847.0 L817.2 850.1 L818.7 853.2 L820.2 856.3 L821.8 859.4 L823.4 862.5 L825.1 865.6 L826.8 868.6 L828.5 871.6 L830.2 874.7 L832.0 877.7 L833.8 880.7 L835.6 883.7 L837.5 886.7 L839.3 889.6 L841.2 892.6 L843.1 895.5 L845.0 898.5 L847.0 901.4 L848.9 904.3 L850.9 907.3 L852.8 910.2 L854.8 913.1 L856.8 916.0 L858.8 918.9 L860.8 921.7 L862.7 924.6 L864.7 927.5 L866.7 930.3 L868.7 933.2 L870.7 936.0 L872.7 938.9 L874.7 941.7 L876.7 944.5 L878.8 947.3 L880.8 950.2 L882.8 953.0 L884.8 955.8 L886.8 958.6 L888.9 961.4 L890.9 964.2 L892.9 967.0 L894.9 969.7 L897.0 972.5 L899.0 975.3 L901.0 978.1 L903.1 980.9 L905.1 983.6 L907.1 986.4 L909.2 989.2 L911.2 991.9 L913.3 994.7 L915.3 997.4 L917.4 1000.2 L919.4 1002.9 L921.5 1005.7 L923.5 1008.4 L925.6 1011.2 L927.6 1013.9 L929.7 1016.7 L931.7 1019.4 L933.8 1022.2 L935.8 1024.9 L937.9 1027.7 L939.9 1030.4 L942.0 1033.2 L944.1 1035.9 L946.1 1038.7 L948.2 1041.4 L950.2 1044.2 L952.3 1046.9 L954.3 1049.7 L956.4 1052.5 L958.4 1055.2 L960.5 1058.0 L962.5 1060.8 L964.6 1063.5 L966.7 1066.3 L968.7 1069.1 L970.8 1071.8 L972.8 1074.6 L974.9 1077.4 L976.9 1080.2 L979.0 1083.0 L981.0 1085.8 L983.0 1088.6 L985.1 1091.4 L987.1 1094.2 L989.2 1097.0 L991.2 1099.8 L993.3 1102.6 L995.3 1105.4 L997.4 1108.3 L999.4 1111.1 L1001.5 1113.9 L1003.5 1116.7 L1005.6 1119.5 L1007.7 1122.3 L1009.7 1125.1 L1011.8 1128.0 L1013.9 1130.8 L1015.9 1133.6 L1018.0 1136.4 L1020.1 1139.2 L1022.2 1142.0 L1024.3 1144.7 L1026.4 1147.5 L1028.5 1150.3 L1030.6 1153.1 L1032.7 1155.9 L1034.9 1158.6 L1037.0 1161.4 L1039.1 1164.1 L1041.3 1166.9 L1043.5 1169.6 L1045.6 1172.3 L1047.8 1175.1 L1050.0 1177.8 L1052.2 1180.5 L1054.4 1183.2 L1056.6 1185.9 L1058.8 1188.5 L1061.0 1191.2 L1063.3 1193.8 L1065.5 1196.5 L1067.8 1199.1 L1070.1 1201.7 L1072.3 1204.3 L1074.6 1206.9 L1076.9 1209.5 L1079.3 1212.0 L1081.6 1214.6 L1084.0 1217.1 L1086.3 1219.7 L1088.7 1222.2 L1091.1 1224.6 L1093.5 1227.1 L1095.9 1229.6 L1098.3 1232.0 L1100.8 1234.4 L1103.3 1236.8 L1105.7 1239.2 L1108.2 1241.6 L1110.8 1243.9 L1113.3 1246.3 L1115.8 1248.6 L1118.4 1250.9 L1121.0 1253.1 L1123.6 1255.4 L1126.2 1257.6 L1128.8 1259.8 L1131.5 1262.0 L1134.1 1264.2 L1136.8 1266.3 L1139.5 1268.5 L1142.3 1270.6 L1145.0 1272.7 L1147.7 1274.7 L1150.5 1276.8 L1153.3 1278.8 L1156.1 1280.8 L1158.9 1282.8 L1161.7 1284.8 L1164.6 1286.8 L1167.4 1288.7 L1170.3 1290.6 L1173.2 1292.5 L1176.1 1294.4 L1179.0 1296.3 L1181.9 1298.1 L1184.8 1299.9 L1187.8 1301.7 L1190.8 1303.5 L1193.7 1305.3 L1196.7 1307.0 L1199.7 1308.8 L1202.7 1310.5 L1205.8 1312.2 L1208.8 1313.9 L1211.8 1315.5 L1214.9 1317.2 L1218.0 1318.8 L1221.1 1320.4 L1224.1 1322.0 L1227.2 1323.6 L1230.4 1325.2 L1233.5 1326.7 L1236.6 1328.3 L1239.7 1329.8 L1242.9 1331.3 L1246.0 1332.8 L1249.2 1334.2 L1252.4 1335.7 L1255.6 1337.1 L1258.8 1338.5 L1262.0 1339.9 L1265.2 1341.3 L1268.4 1342.7 L1271.6 1344.0 L1274.8 1345.4 L1278.0 1346.7 L1281.3 1348.0 L1284.5 1349.3 L1287.8 1350.6 L1291.0 1351.9 L1294.3 1353.1 L1297.6 1354.3 L1300.9 1355.6 L1304.1 1356.8 L1307.4 1358.0 L1310.7 1359.1 L1314.0 1360.3 L1317.3 1361.5 L1320.6 1362.6 L1323.9 1363.7 L1327.2 1364.8 L1330.5 1365.9 L1333.9 1367.0 L1337.2 1368.1 L1340.5 1369.1 L1343.8 1370.2 L1347.2 1371.2 L1350.5 1372.2 L1353.8 1373.2 L1357.2 1374.2 L1360.5 1375.2 L1363.8 1376.2 L1367.2 1377.1 L1370.5 1378.1 L1373.9 1379.0 L1377.2 1379.9 L1380.6 1380.8 L1383.9 1381.7 L1387.3 1382.6 L1390.6 1383.5 L1394.0 1384.3 L1397.4 1385.2 L1400.7 1386.0 L1404.1 1386.8 L1407.5 1387.6 L1410.8 1388.4 L1414.2 1389.2 L1417.6 1390.0 L1421.0 1390.8 L1424.4 1391.5 L1427.7 1392.3 L1431.1 1393.0 L1434.5 1393.7 L1437.9 1394.5 L1441.3 1395.2 L1444.7 1395.8 L1448.1 1396.5 L1451.5 1397.2 L1454.9 1397.9 L1458.3 1398.5 L1461.7 1399.2 L1465.1 1399.8 L1468.5 1400.4 L1471.9 1401.0 L1475.3 1401.6 L1478.7 1402.2 L1482.1 1402.8 L1485.5 1403.4 L1488.9 1403.9 L1492.4 1404.5 L1495.8 1405.0 L1499.2 1405.6 L1502.6 1406.1 L1506.1 1406.6 L1509.5 1407.2 L1512.9 1407.7 L1516.3 1408.2 L1519.8 1408.6 L1523.2 1409.1 L1526.6 1409.6 L1530.1 1410.0 L1533.5 1410.5 L1536.9 1410.9 L1540.4 1411.4 L1543.8 1411.8 L1547.2 1412.2 L1550.7 1412.7 L1554.1 1413.1 L1557.6 1413.5 L1561.0 1413.9 L1564.5 1414.2 L1567.9 1414.6 L1571.4 1415.0 L1574.8 1415.4 L1578.3 1415.7 L1581.7 1416.1 L1585.2 1416.4 L1588.6 1416.7 L1592.1 1417.1 L1595.5 1417.4 L1599.0 1417.7 L1602.5 1418.0 L1605.9 1418.3 L1609.4 1418.6 L1612.8 1418.9 L1616.3 1419.2 L1619.8 1419.5 L1623.2 1419.8 L1626.7 1420.1 L1630.2 1420.3 L1633.6 1420.6 L1637.1 1420.8 L1640.5 1421.1 L1644.0 1421.3 L1647.5 1421.6 L1651.0 1421.8 L1654.4 1422.0 L1657.9 1422.3 L1661.4 1422.5 L1664.8 1422.7 L1668.3 1422.9 L1671.8 1423.1 L1675.3 1423.3 L1678.7 1423.5 L1682.2 1423.7 L1685.7 1423.9 L1689.2 1424.1 L1692.6 1424.3 L1696.1 1424.4 L1699.6 1424.6 L1703.1 1424.8 L1706.5 1425.0 L1710.0 1425.1 L1713.5 1425.3 L1717.0 1425.4 L1720.4 1425.6 L1723.9 1425.7 L1727.4 1425.9 L1730.9 1426.0 L1734.4 1426.2 L1737.8 1426.3 L1741.3 1426.5 L1744.8 1426.6 L1748.3 1426.7 L1751.7 1426.9 L1755.2 1427.0 L1758.7 1427.1 L1762.2 1427.2 L1765.7 1427.4 L1769.1 1427.5 L1772.6 1427.6 L1776.1 1427.7 L1779.6 1427.8 L1783.0 1427.9 L1786.5 1428.1 L1790.0 1428.2 L1793.5 1428.3 L1797.0 1428.4 L1800.4 1428.5 L1803.9 1428.6 L1807.4 1428.7 L1810.9 1428.8 L1814.3 1428.9 L1817.8 1429.0 L1821.3 1429.1 L1824.8 1429.2 L1828.2 1429.3 L1831.7 1429.4 L1835.2 1429.5 L1838.6 1429.6 L1842.1 1429.7 L1845.6 1429.8 L1849.1 1429.9" stroke="#ff00ff"/>
<path d="M283.1 1431.0 L286.4 1430.8 L289.7 1430.5 L293.0 1430.0 L296.2 1429.3 L299.4 1428.4 L302.5 1427.4 L305.5 1426.2 L308.5 1424.9 L311.5 1423.4 L314.3 1421.7 L317.1 1420.0 L319.8 1418.1 L322.4 1416.1 L324.9 1414.0 L327.3 1411.7 L329.6 1409.4 L331.9 1407.0 L334.0 1404.5 L335.9 1401.8 L337.8 1399.2 L339.5 1396.4 L341.1 1393.6 L342.7 1390.7 L344.1 1387.8 L345.4 1384.8 L346.7 1381.8 L347.9 1378.8 L349.1 1375.7 L350.3 1372.6 L351.4 1369.5 L352.5 1366.5 L353.6 1363.4 L354.7 1360.3 L355.8 1357.2 L356.9 1354.1 L358.0 1351.1 L359.0 1348.0 L360.0 1344.9 L361.1 1341.8 L362.1 1338.7 L363.1 1335.6 L364.1 1332.6 L365.1 1329.5 L366.1 1326.4 L367.0 1323.3 L368.0 1320.2 L368.9 1317.1 L369.9 1314.0 L370.8 1310.9 L371.7 1307.8 L372.6 1304.7 L373.5 1301.6 L374.4 1298.5 L375.3 1295.4 L376.2 1292.3 L377.0 1289.2 L377.9 1286.0 L378.7 1282.9 L379.6 1279.8 L380.4 1276.7 L381.2 1273.5 L382.0 1270.4 L382.8 1267.3 L383.6 1264.1 L384.4 1261.0 L385.2 1257.9 L386.0 1254.7 L386.7 1251.6 L387.5 1248.4 L388.2 1245.2 L389.0 1242.1 L389.7 1238.9 L390.4 1235.7 L391.2 1232.6 L391.9 1229.4 L392.6 1226.2 L393.3 1223.0 L394.0 1219.8 L394.7 1216.6 L395.3 1213.4 L396.0 1210.2 L396.7 1207.0 L397.3 1203.8 L398.0 1200.5 L398.6 1197.3 L399.3 1194.1 L399.9 1190.8 L400.6 1187.6 L401.2 1184.4 L401.9 1181.2 L402.6 1178.0 L403.4 1174.8 L404.1 1171.6 L404.9 1168.5 L405.8 1165.3 L406.7 1162.3 L407.6 1159.2 L408.6 1156.2 L409.7 1153.2 L410.8 1150.2 L412.0 1147.3 L413.3 1144.4 L414.6 1141.6 L416.1 1138.9 L417.6 1136.2 L419.2 1133.5 L420.9 1130.9 L422.8 1128.4 L424.7 1126.0 L426.8 1123.6 L429.0 1121.4 L431.4 1119.3 L433.9 1117.3 L436.6 1115.6 L439.5 1114.0 L442.6 1112.7 L445.7 1111.4 L448.9 1110.1 L452.0 1108.8 L455.0 1107.4 L457.8 1105.8 L460.5 1104.1 L463.0 1102.2 L465.3 1100.1 L467.5 1097.9 L469.6 1095.5 L471.5 1093.1 L473.3 1090.5 L475.0 1087.9 L476.7 1085.1 L478.2 1082.3 L479.7 1079.4 L481.1 1076.5 L482.5 1073.5 L483.8 1070.6 L485.1 1067.6 L486.4 1064.6 L487.6 1061.5 L488.8 1058.5 L490.0 1055.5 L491.2 1052.4 L492.3 1049.4 L493.4 1046.3 L494.5 1043.3 L495.6 1040.2 L496.7 1037.1 L497.7 1034.0 L498.7 1030.9 L499.7 1027.8 L500.7 1024.7 L501.7 1021.5 L502.6 1018.4 L503.6 1015.3 L504.5 1012.2 L505.4 1009.0 L506.3 1005.9 L507.1 1002.7 L508.0 999.6 L508.9 996.4 L509.7 993.2 L510.5 990.1 L511.3 986.9 L512.1 983.7 L512.9 980.5 L513.7 977.4 L514.5 974.2 L515.3 971.0 L516.1 967.8 L516.8 964.6 L517.6 961.5 L518.4 958.3 L519.1 955.1 L519.9 951.9 L520.6 948.7 L521.4 945.6 L522.1 942.4 L522.9 939.2 L523.6 936.0 L524.4 932.9 L525.1 929.7 L525.9 926.5 L526.7 923.4 L527.4 920.2 L528.2 917.1 L529.0 913.9 L529.8 910.8 L530.6 907.6 L531.4 904.5 L532.2 901.4 L533.0 898.2 L533.8 895.1 L534.6 892.0 L535.5 888.9 L536.4 885.8 L537.2 882.7 L538.1 879.6 L539.0 876.6 L539.9 873.5 L540.9 870.4 L541.8 867.4 L542.8 864.3 L543.8 861.3 L544.9 858.3 L546.0 855.2 L547.1 852.2 L548.3 849.2 L549.5 846.2 L550.8 843.2 L552.1 840.2 L553.5 837.2 L555.0 834.2 L556.5 831.2 L558.1 828.2 L559.7 825.2 L561.5 822.2 L563.3 819.2 L565.2 816.3 L567.2 813.3 L569.2 810.4 L571.4 807.5 L573.6 804.8 L575.8 802.3 L578.2 800.0 L580.5 797.9 L583.0 796.2 L585.4 794.7 L587.9 793.7 L590.5 793.1 L593.0 792.9 L595.6 793.3 L598.2 794.0 L600.8 795.1 L603.4 796.5 L606.0 798.2 L608.7 800.1 L611.4 802.2 L614.1 804.5 L616.8 806.9 L619.5 809.3 L622.3 811.8 L625.1 814.3 L627.9 816.6 L630.7 818.9 L633.5 821.0 L636.4 823.0 L639.3 824.7 L642.2 826.2 L645.1 827.5 L648.0 828.5 L650.9 829.2 L653.7 829.7 L656.6 829.9 L659.5 829.8 L662.3 829.4 L665.2 828.7 L668.0 827.8 L670.8 826.5 L673.6 825.1 L676.4 823.5 L679.2 821.8 L682.1 820.1 L685.0 818.2 L687.9 816.4 L690.9 814.7 L693.9 813.0 L697.1 811.4 L700.3 810.0 L703.5 808.8 L706.8 807.8 L710.2 806.9 L713.5 806.2 L716.8 805.8 L720.1 805.5 L723.4 805.4 L726.6 805.6 L729.7 806.0 L732.8 806.6 L735.7 807.5 L738.6 808.6 L741.3 809.9 L744.0 811.4 L746.6 813.1 L749.1 814.9 L751.6 816.9 L753.9 819.0 L756.2 821.3 L758.4 823.7 L760.6 826.2 L762.7 828.8 L764.7 831.4 L766.7 834.1 L768.6 836.9 L770.5 839.7 L772.3 842.6 L774.1 845.4 L775.8 848.2 L777.5 851.1 L779.2 853.9 L780.8 856.8 L782.4 859.6 L784.0 862.5 L785.5 865.3 L787.0 868.1 L788.5 871.0 L790.0 873.8 L791.4 876.7 L792.9 879.5 L794.3 882.4 L795.8 885.2 L797.2 888.1 L798.6 890.9 L800.0 893.8 L801.5 896.6 L802.9 899.5 L804.3 902.4 L805.8 905.2 L807.3 908.1 L808.7 911.0 L810.2 913.9 L811.8 916.8 L813.3 919.6 L814.8 922.5 L816.4 925.4 L817.9 928.3 L819.5 931.1 L821.1 934.0 L822.7 936.8 L824.4 939.7 L826.0 942.5 L827.7 945.3 L829.4 948.2 L831.1 951.0 L832.9 953.8 L834.6 956.5 L836.4 959.3 L838.2 962.0 L840.0 964.8 L841.9 967.5 L843.7 970.2 L845.6 972.8 L847.5 975.5 L849.5 978.1 L851.4 980.7 L853.4 983.3 L855.4 985.9 L857.5 988.4 L859.5 990.9 L861.6 993.5 L863.7 996.0 L865.8 998.4 L867.9 1000.9 L870.0 1003.4 L872.2 1005.8 L874.3 1008.2 L876.5 1010.6 L878.7 1013.0 L880.9 1015.4 L883.1 1017.8 L885.3 1020.2 L887.6 1022.5 L889.8 1024.9 L892.1 1027.2 L894.3 1029.6 L896.6 1031.9 L898.8 1034.2 L901.1 1036.6 L903.4 1038.9 L905.7 1041.2 L907.9 1043.5 L910.2 1045.8 L912.5 1048.1 L914.8 1050.4 L917.0 1052.7 L919.3 1055.0 L921.6 1057.4 L923.8 1059.7 L926.1 1062.0 L928.4 1064.3 L930.6 1066.6 L932.8 1069.0 L935.1 1071.3 L937.3 1073.6 L939.5 1076.0 L941.7 1078.3 L943.9 1080.7 L946.1 1083.1 L948.2 1085.5 L950.4 1087.8 L952.5 1090.3 L954.6 1092.7 L956.7 1095.1 L958.8 1097.5 L960.9 1100.0 L962.9 1102.5 L965.0 1105.0 L967.0 1107.4 L969.0 1110.0 L971.0 1112.5 L972.9 1115.0 L974.9 1117.5 L976.9 1120.1 L978.8 1122.6 L980.7 1125.2 L982.6 1127.8 L984.6 1130.3 L986.5 1132.9 L988.4 1135.5 L990.3 1138.0 L992.2 1140.6 L994.1 1143.2 L996.0 1145.8 L997.9 1148.4 L999.8 1150.9 L1001.8 1153.5 L1003.7 1156.1 L1005.6 1158.6 L1007.6 1161.2 L1009.5 1163.7 L1011.5 1166.3 L1013.4 1168.8 L1015.4 1171.4 L1017.4 1173.9 L1019.4 1176.4 L1021.4 1178.9 L1023.5 1181.4 L1025.5 1183.8 L1027.6 1186.3 L1029.7 1188.7 L1031.8 1191.2 L1033.9 1193.6 L1036.0 1196.0 L1038.2 1198.4 L1040.3 1200.8 L1042.5 1203.2 L1044.7 1205.5 L1046.9 1207.9 L1049.1 1210.2 L1051.4 1212.5 L1053.6 1214.8 L1055.9 1217.1 L1058.2 1219.4 L1060.4 1221.7 L1062.8 1223.9 L1065.1 1226.2 L1067.4 1228.4 L1069.8 1230.6 L1072.1 1232.9 L1074.5 1235.1 L1076.9 1237.2 L1079.3 1239.4 L1081.7 1241.6 L1084.1 1243.7 L1086.6 1245.8 L1089.0 1247.9 L1091.5 1250.0 L1094.0 1252.1 L1096.5 1254.2 L1099.0 1256.3 L1101.5 1258.3 L1104.0 1260.4 L1106.6 1262.4 L1109.1 1264.4 L1111.7 1266.4 L1114.3 1268.4 L1116.9 1270.3 L1119.4 1272.3 L1122.1 1274.2 L1124.7 1276.1 L1127.3 1278.1 L1130.0 1279.9 L1132.6 1281.8 L1135.3 1283.7 L1138.0 1285.6 L1140.6 1287.4 L1143.3 1289.2 L1146.0 1291.0 L1148.8 1292.8 L1151.5 1294.6 L1154.2 1296.4 L1157.0 1298.1 L1159.7 1299.9 L1162.5 1301.6 L1165.3 1303.3 L1168.1 1305.0 L1170.8 1306.7 L1173.7 1308.3 L1176.5 1310.0 L1179.3 1311.6 L1182.1 1313.2 L1185.0 1314.8 L1187.8 1316.4 L1190.7 1318.0 L1193.5 1319.6 L1196.4 1321.1 L1199.3 1322.6 L1202.2 1324.2 L1205.1 1325.7 L1208.0 1327.1 L1210.9 1328.6 L1213.8 1330.1 L1216.7 1331.5 L1219.7 1332.9 L1222.6 1334.3 L1225.5 1335.7 L1228.5 1337.1 L1231.5 1338.5 L1234.4 1339.8 L1237.4 1341.1 L1240.4 1342.4 L1243.4 1343.7 L1246.4 1345.0 L1249.4 1346.3 L1252.4 1347.5 L1255.4 1348.8 L1258.4 1350.0 L1261.4 1351.2 L1264.5 1352.4 L1267.5 1353.5 L1270.5 1354.7 L1273.6 1355.8 L1276.6 1357.0 L1279.7 1358.1 L1282.7 1359.2 L1285.8 1360.3 L1288.9 1361.3 L1292.0 1362.4 L1295.0 1363.4 L1298.1 1364.5 L1301.2 1365.5 L1304.3 1366.5 L1307.4 1367.5 L1310.5 1368.5 L1313.6 1369.4 L1316.7 1370.4 L1319.8 1371.3 L1323.0 1372.3 L1326.1 1373.2 L1329.2 1374.1 L1332.3 1375.0 L1335.5 1375.9 L1338.6 1376.7 L1341.8 1377.6 L1344.9 1378.5 L1348.0 1379.3 L1351.2 1380.1 L1354.3 1380.9 L1357.5 1381.7 L1360.7 1382.5 L1363.8 1383.3 L1367.0 1384.1 L1370.1 1384.9 L1373.3 1385.6 L1376.5 1386.4 L1379.7 1387.1 L1382.8 1387.8 L1386.0 1388.6 L1389.2 1389.3 L1392.4 1390.0 L1395.5 1390.7 L1398.7 1391.3 L1401.9 1392.0 L1405.1 1392.7 L1408.3 1393.4 L1411.5 1394.0 L1414.7 1394.6 L1417.9 1395.3 L1421.1 1395.9 L1424.2 1396.5 L1427.4 1397.1 L1430.6 1397.7 L1433.8 1398.3 L1437.0 1398.9 L1440.2 1399.5 L1443.4 1400.1 L1446.6 1400.7 L1449.8 1401.2 L1453.0 1401.8 L1456.3 1402.3 L1459.5 1402.8 L1462.7 1403.4 L1465.9 1403.9 L1469.1 1404.4 L1472.3 1404.9 L1475.5 1405.4 L1478.7 1405.9 L1481.9 1406.4 L1485.2 1406.9 L1488.4 1407.3 L1491.6 1407.8 L1494.8 1408.3 L1498.0 1408.7 L1501.3 1409.2 L1504.5 1409.6 L1507.7 1410.1 L1510.9 1410.5 L1514.2 1410.9 L1517.4 1411.3 L1520.6 1411.7 L1523.8 1412.1 L1527.1 1412.5 L1530.3 1412.9 L1533.5 1413.3 L1536.8 1413.7 L1540.0 1414.0 L1543.2 1414.4 L1546.5 1414.8 L1549.7 1415.1 L1552.9 1415.5 L1556.2 1415.8 L1559.4 1416.2 L1562.6 1416.5 L1565.9 1416.8 L1569.1 1417.1 L1572.4 1417.5 L1575.6 1417.8 L1578.9 1418.1 L1582.1 1418.4 L1585.3 1418.7 L1588.6 1419.0 L1591.8 1419.3 L1595.1 1419.5 L1598.3 1419.8 L1601.6 1420.1 L1604.8 1420.4 L1608.1 1420.6 L1611.3 1420.9 L1614.6 1421.1 L1617.8 1421.4 L1621.1 1421.6 L1624.3 1421.9 L1627.6 1422.1 L1630.8 1422.3 L1634.1 1422.6 L1637.3 1422.8 L1640.6 1423.0 L1643.8 1423.2 L1647.1 1423.4 L1650.3 1423.6 L1653.6 1423.8 L1656.8 1424.0 L1660.1 1424.2 L1663.3 1424.4 L1666.6 1424.6 L1669.8 1424.8 L1673.1 1425.0 L1676.4 1425.2 L1679.6 1425.3 L1682.9 1425.5 L1686.1 1425.7 L1689.4 1425.8 L1692.6 1426.0 L1695.9 1426.2 L1699.2 1426.3 L1702.4 1426.5 L1705.7 1426.6 L1708.9 1426.8 L1712.2 1426.9 L1715.5 1427.0 L1718.7 1427.2 L1722.0 1427.3 L1725.2 1427.4 L1728.5 1427.6 L1731.7 1427.7 L1735.0 1427.8 L1738.3 1427.9 L1741.5 1428.1 L1744.8 1428.2 L1748.0 1428.3 L1751.3 1428.4 L1754.6 1428.5 L1757.8 1428.6 L1761.1 1428.7 L1764.3 1428.8 L1767.6 1428.9 L1770.9 1429.0 L1774.1 1429.1 L1777.4 1429.2 L1780.6 1429.3 L1783.9 1429.4 L1787.1 1429.5 L1790.4 1429.6 L1793.7 1429.7 L1796.9 1429.8 L1800.2 1429.9 L1803.4 1430.0 L1806.7 1430.1 L1809.9 1430.1 L1813.2 1430.2 L1816.5 1430.3 L1819.7 1430.4 L1823.0 1430.5 L1826.2 1430.5 L1829.5 1430.6 L1832.7 1430.7 L1836.0 1430.8 L1839.2 1430.9 L1842.5 1430.9 L1845.8 1431.0 L1849.0 1431.1" stroke="#ffff00"/>
<path d="M282.6 1432.5 L286.1 1432.6 L289.6 1432.5 L292.9 1432.2 L296.2 1431.7 L299.3 1431.1 L302.3 1430.3 L305.3 1429.3 L308.2 1428.3 L310.9 1427.0 L313.6 1425.7 L316.2 1424.2 L318.8 1422.6 L321.2 1420.9 L323.6 1419.0 L325.9 1417.1 L328.1 1415.1 L330.2 1413.0 L332.3 1410.8 L334.3 1408.6 L336.3 1406.2 L338.2 1403.8 L340.0 1401.4 L341.8 1398.9 L343.5 1396.4 L345.1 1393.8 L346.7 1391.2 L348.3 1388.6 L349.8 1385.9 L351.2 1383.3 L352.6 1380.6 L354.0 1377.9 L355.3 1375.2 L356.6 1372.5 L357.8 1369.7 L359.0 1367.0 L360.2 1364.2 L361.3 1361.4 L362.4 1358.6 L363.4 1355.8 L364.5 1353.0 L365.5 1350.1 L366.5 1347.3 L367.4 1344.4 L368.4 1341.5 L369.3 1338.6 L370.2 1335.7 L371.0 1332.8 L371.9 1329.9 L372.7 1327.0 L373.6 1324.0 L374.4 1321.1 L375.2 1318.1 L376.0 1315.2 L376.8 1312.2 L377.6 1309.2 L378.4 1306.3 L379.2 1303.3 L380.0 1300.3 L380.7 1297.4 L381.5 1294.5 L382.2 1291.6 L383.0 1288.7 L383.7 1285.8 L384.4 1283.0 L385.1 1280.2 L385.9 1277.4 L386.6 1274.7 L387.3 1272.0 L388.0 1269.3 L388.6 1266.7 L389.3 1264.1 L390.0 1261.6 L390.7 1259.2 L391.4 1256.7 L392.1 1254.2 L392.9 1251.7 L393.7 1249.2 L394.4 1246.6 L395.2 1244.0 L396.0 1241.4 L396.8 1238.7 L397.6 1236.0 L398.3 1233.2 L399.1 1230.4 L399.8 1227.5 L400.5 1224.5 L401.2 1221.5 L401.9 1218.4 L402.6 1215.4 L403.4 1212.3 L404.2 1209.2 L405.0 1206.1 L405.8 1203.0 L406.7 1199.9 L407.7 1196.9 L408.8 1194.0 L409.9 1191.0 L411.1 1188.2 L412.4 1185.4 L413.8 1182.8 L415.3 1180.2 L417.0 1177.7 L418.7 1175.3 L420.5 1173.0 L422.5 1170.8 L424.5 1168.7 L426.7 1166.7 L428.9 1164.7 L431.2 1162.9 L433.6 1161.0 L436.0 1159.3 L438.5 1157.6 L441.1 1155.9 L443.7 1154.3 L446.4 1152.7 L449.1 1151.2 L451.9 1149.7 L454.6 1148.1 L457.3 1146.6 L460.0 1145.0 L462.6 1143.3 L465.2 1141.7 L467.7 1139.9 L470.1 1138.1 L472.4 1136.2 L474.5 1134.1 L476.5 1132.0 L478.4 1129.7 L480.2 1127.4 L481.9 1124.9 L483.4 1122.4 L484.9 1119.7 L486.2 1117.0 L487.5 1114.3 L488.7 1111.4 L489.9 1108.5 L490.9 1105.6 L492.0 1102.6 L493.0 1099.6 L493.9 1096.5 L494.8 1093.5 L495.7 1090.4 L496.6 1087.3 L497.5 1084.2 L498.4 1081.1 L499.3 1078.0 L500.2 1074.9 L501.1 1071.9 L502.1 1068.8 L503.1 1065.8 L504.1 1062.9 L505.2 1059.9 L506.3 1057.0 L507.4 1054.1 L508.5 1051.3 L509.7 1048.4 L510.8 1045.6 L512.0 1042.7 L513.1 1039.9 L514.3 1037.1 L515.4 1034.3 L516.6 1031.4 L517.7 1028.6 L518.8 1025.8 L519.9 1023.0 L521.0 1020.1 L522.0 1017.3 L523.0 1014.4 L524.0 1011.6 L525.0 1008.7 L525.9 1005.8 L526.8 1002.8 L527.6 999.9 L528.4 996.9 L529.2 993.9 L530.0 990.9 L530.7 987.9 L531.4 984.9 L532.1 981.9 L532.8 978.8 L533.5 975.8 L534.2 972.8 L534.9 969.7 L535.6 966.7 L536.3 963.6 L537.0 960.6 L537.7 957.6 L538.4 954.5 L539.2 951.5 L539.9 948.5 L540.7 945.5 L541.5 942.5 L542.4 939.5 L543.3 936.5 L544.2 933.6 L545.1 930.6 L546.1 927.7 L547.2 924.8 L548.3 922.0 L549.4 919.1 L550.6 916.3 L551.9 913.5 L553.2 910.7 L554.6 908.0 L556.1 905.3 L557.6 902.6 L559.2 900.0 L560.9 897.4 L562.7 894.8 L564.6 892.3 L566.6 889.9 L568.7 887.5 L570.9 885.2 L573.3 882.9 L575.8 880.8 L578.3 878.8 L581.0 877.0 L583.6 875.6 L586.3 874.6 L589.1 873.9 L591.8 873.7 L594.5 873.8 L597.2 874.2 L599.9 875.0 L602.6 876.1 L605.2 877.5 L607.8 879.1 L610.4 881.0 L612.9 883.1 L615.4 885.3 L618.0 887.6 L620.5 889.9 L623.0 892.2 L625.5 894.4 L628.1 896.4 L630.7 898.3 L633.3 899.9 L636.0 901.3 L638.7 902.4 L641.5 903.2 L644.3 903.7 L647.1 904.0 L650.0 904.1 L652.9 904.0 L655.8 903.6 L658.7 903.1 L661.6 902.4 L664.6 901.6 L667.5 900.7 L670.5 899.6 L673.5 898.4 L676.4 897.1 L679.3 895.7 L682.3 894.3 L685.2 892.8 L688.1 891.3 L691.0 889.8 L693.8 888.3 L696.7 886.8 L699.5 885.5 L702.4 884.2 L705.2 883.0 L708.1 882.0 L710.9 881.1 L713.8 880.4 L716.6 879.9 L719.5 879.7 L722.4 879.7 L725.3 880.0 L728.1 880.5 L731.0 881.3 L733.9 882.2 L736.7 883.4 L739.5 884.7 L742.3 886.1 L745.0 887.8 L747.7 889.5 L750.3 891.3 L752.8 893.3 L755.3 895.3 L757.7 897.4 L760.0 899.5 L762.2 901.7 L764.4 904.0 L766.4 906.2 L768.5 908.5 L770.4 910.9 L772.3 913.3 L774.2 915.7 L776.0 918.2 L777.8 920.7 L779.5 923.2 L781.3 925.7 L783.0 928.2 L784.6 930.8 L786.3 933.4 L787.9 936.0 L789.6 938.6 L791.2 941.2 L792.8 943.8 L794.4 946.4 L796.0 949.0 L797.6 951.7 L799.2 954.3 L800.8 956.9 L802.4 959.6 L804.0 962.2 L805.5 964.9 L807.1 967.5 L808.7 970.2 L810.3 972.8 L811.9 975.5 L813.5 978.1 L815.1 980.8 L816.7 983.4 L818.3 986.0 L819.9 988.6 L821.6 991.3 L823.2 993.9 L824.9 996.5 L826.6 999.0 L828.2 1001.6 L829.9 1004.2 L831.7 1006.7 L833.4 1009.2 L835.2 1011.8 L836.9 1014.3 L838.7 1016.8 L840.6 1019.2 L842.4 1021.7 L844.3 1024.1 L846.2 1026.5 L848.1 1028.9 L850.0 1031.3 L852.0 1033.7 L853.9 1036.0 L855.9 1038.3 L857.9 1040.6 L860.0 1042.9 L862.0 1045.2 L864.1 1047.5 L866.2 1049.8 L868.3 1052.0 L870.4 1054.2 L872.5 1056.5 L874.6 1058.7 L876.8 1060.9 L879.0 1063.1 L881.1 1065.2 L883.3 1067.4 L885.5 1069.6 L887.7 1071.7 L890.0 1073.9 L892.2 1076.0 L894.4 1078.2 L896.7 1080.3 L898.9 1082.4 L901.2 1084.5 L903.4 1086.6 L905.7 1088.7 L907.9 1090.8 L910.2 1092.9 L912.5 1095.0 L914.8 1097.1 L917.0 1099.2 L919.3 1101.3 L921.6 1103.4 L923.9 1105.5 L926.1 1107.6 L928.4 1109.7 L930.7 1111.8 L932.9 1113.9 L935.2 1116.0 L937.5 1118.1 L939.7 1120.2 L942.0 1122.3 L944.2 1124.4 L946.4 1126.5 L948.7 1128.6 L950.9 1130.8 L953.1 1132.9 L955.3 1135.0 L957.5 1137.2 L959.7 1139.3 L961.9 1141.5 L964.1 1143.7 L966.3 1145.9 L968.4 1148.0 L970.6 1150.2 L972.7 1152.4 L974.9 1154.7 L977.0 1156.9 L979.1 1159.1 L981.2 1161.4 L983.3 1163.7 L985.3 1165.9 L987.4 1168.2 L989.5 1170.5 L991.5 1172.8 L993.6 1175.1 L995.6 1177.4 L997.7 1179.7 L999.7 1182.1 L1001.7 1184.4 L1003.8 1186.7 L1005.8 1189.0 L1007.8 1191.3 L1009.9 1193.7 L1011.9 1196.0 L1014.0 1198.3 L1016.0 1200.6 L1018.1 1202.9 L1020.2 1205.2 L1022.3 1207.4 L1024.4 1209.7 L1026.5 1212.0 L1028.6 1214.2 L1030.7 1216.4 L1032.9 1218.7 L1035.0 1220.9 L1037.2 1223.0 L1039.4 1225.2 L1041.6 1227.4 L1043.8 1229.5 L1046.0 1231.6 L1048.3 1233.8 L1050.6 1235.8 L1052.8 1237.9 L1055.1 1240.0 L1057.4 1242.0 L1059.8 1244.1 L1062.1 1246.1 L1064.4 1248.1 L1066.8 1250.1 L1069.2 1252.1 L1071.5 1254.0 L1073.9 1256.0 L1076.4 1257.9 L1078.8 1259.8 L1081.2 1261.8 L1083.7 1263.6 L1086.1 1265.5 L1088.6 1267.4 L1091.1 1269.2 L1093.6 1271.1 L1096.1 1272.9 L1098.6 1274.7 L1101.1 1276.5 L1103.6 1278.3 L1106.2 1280.0 L1108.7 1281.8 L1111.3 1283.5 L1113.9 1285.3 L1116.5 1287.0 L1119.1 1288.7 L1121.7 1290.3 L1124.3 1292.0 L1126.9 1293.7 L1129.6 1295.3 L1132.2 1296.9 L1134.8 1298.6 L1137.5 1300.2 L1140.2 1301.7 L1142.9 1303.3 L1145.5 1304.9 L1148.2 1306.4 L1150.9 1308.0 L1153.6 1309.5 L1156.4 1311.0 L1159.1 1312.5 L1161.8 1314.0 L1164.6 1315.5 L1167.3 1316.9 L1170.0 1318.4 L1172.8 1319.8 L1175.6 1321.2 L1178.3 1322.6 L1181.1 1324.0 L1183.9 1325.4 L1186.7 1326.8 L1189.5 1328.1 L1192.3 1329.5 L1195.1 1330.8 L1197.9 1332.1 L1200.7 1333.4 L1203.5 1334.7 L1206.3 1336.0 L1209.2 1337.3 L1212.0 1338.5 L1214.8 1339.8 L1217.7 1341.0 L1220.5 1342.3 L1223.4 1343.5 L1226.2 1344.7 L1229.1 1345.9 L1231.9 1347.0 L1234.8 1348.2 L1237.7 1349.3 L1240.5 1350.5 L1243.4 1351.6 L1246.3 1352.7 L1249.1 1353.8 L1252.0 1354.9 L1254.9 1356.0 L1257.8 1357.1 L1260.7 1358.2 L1263.6 1359.2 L1266.5 1360.2 L1269.4 1361.3 L1272.3 1362.3 L1275.2 1363.3 L1278.1 1364.3 L1281.0 1365.3 L1283.9 1366.3 L1286.9 1367.2 L1289.8 1368.2 L1292.7 1369.1 L1295.6 1370.1 L1298.6 1371.0 L1301.5 1371.9 L1304.4 1372.8 L1307.4 1373.7 L1310.3 1374.6 L1313.3 1375.4 L1316.2 1376.3 L1319.2 1377.2 L1322.1 1378.0 L1325.1 1378.8 L1328.0 1379.7 L1331.0 1380.5 L1334.0 1381.3 L1336.9 1382.1 L1339.9 1382.9 L1342.9 1383.6 L1345.8 1384.4 L1348.8 1385.2 L1351.8 1385.9 L1354.8 1386.7 L1357.8 1387.4 L1360.7 1388.1 L1363.7 1388.8 L1366.7 1389.5 L1369.7 1390.2 L1372.7 1390.9 L1375.7 1391.6 L1378.7 1392.3 L1381.7 1392.9 L1384.7 1393.6 L1387.7 1394.2 L1390.7 1394.8 L1393.7 1395.5 L1396.8 1396.1 L1399.8 1396.7 L1402.8 1397.3 L1405.8 1397.9 L1408.8 1398.5 L1411.9 1399.1 L1414.9 1399.6 L1417.9 1400.2 L1420.9 1400.8 L1424.0 1401.3 L1427.0 1401.9 L1430.0 1402.4 L1433.1 1402.9 L1436.1 1403.4 L1439.2 1403.9 L1442.2 1404.4 L1445.2 1404.9 L1448.3 1405.4 L1451.3 1405.9 L1454.4 1406.4 L1457.4 1406.9 L1460.5 1407.3 L1463.5 1407.8 L1466.6 1408.2 L1469.6 1408.7 L1472.7 1409.1 L1475.8 1409.5 L1478.8 1410.0 L1481.9 1410.4 L1484.9 1410.8 L1488.0 1411.2 L1491.1 1411.6 L1494.1 1412.0 L1497.2 1412.4 L1500.3 1412.7 L1503.3 1413.1 L1506.4 1413.5 L1509.5 1413.8 L1512.6 1414.2 L1515.6 1414.6 L1518.7 1414.9 L1521.8 1415.2 L1524.9 1415.6 L1527.9 1415.9 L1531.0 1416.2 L1534.1 1416.5 L1537.2 1416.8 L1540.3 1417.2 L1543.4 1417.5 L1546.4 1417.8 L1549.5 1418.0 L1552.6 1418.3 L1555.7 1418.6 L1558.8 1418.9 L1561.9 1419.2 L1565.0 1419.4 L1568.1 1419.7 L1571.1 1419.9 L1574.2 1420.2 L1577.3 1420.5 L1580.4 1420.7 L1583.5 1420.9 L1586.6 1421.2 L1589.7 1421.4 L1592.8 1421.6 L1595.9 1421.9 L1599.0 1422.1 L1602.1 1422.3 L1605.2 1422.5 L1608.3 1422.7 L1611.4 1422.9 L1614.5 1423.1 L1617.6 1423.3 L1620.7 1423.5 L1623.8 1423.7 L1626.9 1423.9 L1630.0 1424.1 L1633.0 1424.3 L1636.1 1424.4 L1639.2 1424.6 L1642.3 1424.8 L1645.4 1424.9 L1648.5 1425.1 L1651.6 1425.3 L1654.7 1425.4 L1657.8 1425.6 L1660.9 1425.7 L1664.0 1425.9 L1667.1 1426.0 L1670.2 1426.2 L1673.3 1426.3 L1676.4 1426.5 L1679.5 1426.6 L1682.6 1426.7 L1685.7 1426.9 L1688.8 1427.0 L1691.9 1427.1 L1695.0 1427.3 L1698.1 1427.4 L1701.2 1427.5 L1704.3 1427.6 L1707.4 1427.8 L1710.5 1427.9 L1713.6 1428.0 L1716.6 1428.1 L1719.7 1428.2 L1722.8 1428.3 L1725.9 1428.4 L1729.0 1428.6 L1732.1 1428.7 L1735.2 1428.8 L1738.3 1428.9 L1741.4 1429.0 L1744.4 1429.1 L1747.5 1429.2 L1750.6 1429.3 L1753.7 1429.4 L1756.8 1429.5 L1759.9 1429.6 L1762.9 1429.7 L1766.0 1429.8 L1769.1 1429.9 L1772.2 1430.0 L1775.3 1430.1 L1778.3 1430.2 L1781.4 1430.3 L1784.5 1430.4 L1787.6 1430.5 L1790.6 1430.6 L1793.7 1430.7 L1796.8 1430.8 L1799.8 1430.9 L1802.9 1431.0 L1806.0 1431.1 L1809.0 1431.2 L1812.1 1431.3 L1815.1 1431.4 L1818.2 1431.5 L1821.3 1431.6 L1824.3 1431.7 L1827.4 1431.8 L1830.4 1431.9 L1833.5 1432.0 L1836.5 1432.1 L1839.6 1432.2 L1842.6 1432.3 L1845.7 1432.4 L1848.7 1432.5" stroke="#808000"/>
</g>
<g font-family="'Liberation Sans', Arial, sans-serif" font-weight="bold" font-size="73.5">
<text transform="translate(248.6 1459.8) scale(0.91 1)" text-anchor="end">0</text>
<text transform="translate(248.6 1289.8) scale(0.91 1)" text-anchor="end">100</text>
<text transform="translate(248.6 1119.8) scale(0.91 1)" text-anchor="end">200</text>
<text transform="translate(248.6 949.8) scale(0.91 1)" text-anchor="end">300</text>
<text transform="translate(248.6 779.8) scale(0.91 1)" text-anchor="end">400</text>
<text transform="translate(248.6 609.8) scale(0.91 1)" text-anchor="end">500</text>
<text transform="translate(248.6 439.8) scale(0.91 1)" text-anchor="end">600</text>
<text transform="translate(248.6 269.8) scale(0.91 1)" text-anchor="end">700</text>
<text transform="translate(325.4 1537.2) scale(0.91 1)" text-anchor="middle">325</text>
<text transform="translate(543.1 1537.2) scale(0.91 1)" text-anchor="middle">350</text>
<text transform="translate(760.8 1537.2) scale(0.91 1)" text-anchor="middle">375</text>
<text transform="translate(978.5 1537.2) scale(0.91 1)" text-anchor="middle">400</text>
<text transform="translate(1196.2 1537.2) scale(0.91 1)" text-anchor="middle">425</text>
<text transform="translate(1413.9 1537.2) scale(0.91 1)" text-anchor="middle">450</text>
<text transform="translate(1631.6 1537.2) scale(0.91 1)" text-anchor="middle">475</text>
<text transform="translate(1849.3 1537.2) scale(0.91 1)" text-anchor="middle">500</text>
</g>
<text font-family="'Liberation Serif', 'Times New Roman', serif" font-weight="bold" font-size="72.5" x="799.2" y="1655.2">Wavelength (nm)</text>
<text font-family="'Liberation Serif', 'Times New Roman', serif" font-weight="bold" font-size="75" transform="translate(75 1233.7) rotate(-90) scale(1.055 1)" x="-1.3" y="0">Fluorescence Intensity (a.u.)</text>
<text font-family="'Liberation Serif', 'Times New Roman', serif" font-weight="bold" transform="scale(1.06 1)"><tspan x="118.9" y="62.6" font-size="79">(</tspan><tspan x="146.9" y="62.6" font-size="77">b</tspan><tspan x="183.8" y="62.6" font-size="79">)</tspan></text>
<line x1="1082.8" y1="179" x2="1082.8" y2="942" stroke="#000" stroke-width="5"/>
<polygon points="1063.3,909.5 1073.8,909.5 1087.6,951.4 1101.4,909.5 1111.4,909.5 1093.3,960.9 1081.9,960.9" fill="#000"/>
<text font-family="'Liberation Sans', Arial, sans-serif" font-weight="bold" transform="scale(0.965 1)"><tspan x="962.4" y="372.6" font-size="66">Co</tspan><tspan x="1048.1" y="336.5" font-size="38">2+</tspan></text>
<line x1="1119.7" y1="238.0" x2="1263.4" y2="238.0" stroke="#000000" stroke-width="7" stroke-linecap="round"/>
<line x1="1119.7" y1="328.5" x2="1263.4" y2="328.5" stroke="#ff0000" stroke-width="7" stroke-linecap="round"/>
<line x1="1119.7" y1="419.0" x2="1263.4" y2="419.0" stroke="#00ff00" stroke-width="7" stroke-linecap="round"/>
<line x1="1119.7" y1="509.5" x2="1263.4" y2="509.5" stroke="#0000ff" stroke-width="7" stroke-linecap="round"/>
<line x1="1119.7" y1="600.0" x2="1263.4" y2="600.0" stroke="#00ffff" stroke-width="7" stroke-linecap="round"/>
<line x1="1119.7" y1="690.5" x2="1263.4" y2="690.5" stroke="#ff00ff" stroke-width="7" stroke-linecap="round"/>
<line x1="1119.7" y1="781.0" x2="1263.4" y2="781.0" stroke="#ffff00" stroke-width="7" stroke-linecap="round"/>
<line x1="1119.7" y1="871.5" x2="1263.4" y2="871.5" stroke="#808000" stroke-width="7" stroke-linecap="round"/>
<g font-family="'Liberation Sans', Arial, sans-serif" fill="#000" transform="scale(0.968 1)">
<text>
<tspan x="1340.9" y="258.6" font-size="62.0" font-weight="bold">0</tspan>
<tspan x="1393.1" y="258.6" font-size="62.0" font-weight="bold">mol L</tspan>
<tspan x="1552.3" y="224.4" font-size="48.0" font-weight="bold">-</tspan>
<tspan x="1577.5" y="224.0" font-size="35.0" font-weight="bold">1</tspan>
</text>
<text>
<tspan x="1341.0" y="348.1" font-size="62.0" font-weight="bold">5.16</tspan>
<tspan x="1473.5" y="352.8" font-size="70.0" font-weight="normal">×</tspan>
<tspan x="1526.6" y="348.1" font-size="62.0" font-weight="bold">1</tspan>
<tspan x="1565.6" y="348.1" font-size="62.0" font-weight="bold">0</tspan>
<tspan x="1602.7" y="313.4" font-size="48.0" font-weight="bold">-</tspan>
<tspan x="1622.1" y="314.0" font-size="35.0" font-weight="bold">5</tspan>
<tspan x="1661.7" y="344.6" font-size="62.0" font-weight="bold">mol L</tspan>
<tspan x="1819.6" y="310.0" font-size="48.0" font-weight="bold">-</tspan>
<tspan x="1845.6" y="309.6" font-size="35.0" font-weight="bold">1</tspan>
</text>
<text>
<tspan x="1341.3" y="438.7" font-size="62.0" font-weight="bold">9.12</tspan>
<tspan x="1472.9" y="445.3" font-size="70.0" font-weight="normal">×</tspan>
<tspan x="1527.4" y="438.7" font-size="62.0" font-weight="bold">1</tspan>
<tspan x="1566.5" y="438.7" font-size="62.0" font-weight="bold">0</tspan>
<tspan x="1601.1" y="404.0" font-size="48.0" font-weight="bold">-</tspan>
<tspan x="1621.5" y="404.2" font-size="35.0" font-weight="bold">5</tspan>
<tspan x="1659.2" y="435.2" font-size="62.0" font-weight="bold">mol L</tspan>
<tspan x="1817.9" y="400.6" font-size="48.0" font-weight="bold">-</tspan>
<tspan x="1841.6" y="398.6" font-size="35.0" font-weight="bold">1</tspan>
</text>
<text>
<tspan x="1337.3" y="529.6" font-size="62.0" font-weight="bold">1</tspan>
<tspan x="1375.4" y="529.6" font-size="62.0" font-weight="bold">.28</tspan>
<tspan x="1474.4" y="532.9" font-size="70.0" font-weight="normal">×</tspan>
<tspan x="1527.4" y="529.6" font-size="62.0" font-weight="bold">1</tspan>
<tspan x="1566.5" y="529.6" font-size="62.0" font-weight="bold">0</tspan>
<tspan x="1601.1" y="494.3" font-size="48.0" font-weight="bold">-</tspan>
<tspan x="1620.5" y="494.5" font-size="35.0" font-weight="bold">4</tspan>
<tspan x="1657.8" y="530.5" font-size="62.0" font-weight="bold">mol L</tspan>
<tspan x="1815.4" y="498.7" font-size="48.0" font-weight="bold">-</tspan>
<tspan x="1841.6" y="496.0" font-size="35.0" font-weight="bold">1</tspan>
</text>
<text>
<tspan x="1337.3" y="619.6" font-size="62.0" font-weight="bold">1</tspan>
<tspan x="1375.4" y="619.6" font-size="62.0" font-weight="bold">.62</tspan>
<tspan x="1474.5" y="622.7" font-size="70.0" font-weight="normal">×</tspan>
<tspan x="1527.4" y="619.6" font-size="62.0" font-weight="bold">1</tspan>
<tspan x="1566.5" y="619.6" font-size="62.0" font-weight="bold">0</tspan>
<tspan x="1599.6" y="582.0" font-size="48.0" font-weight="bold">-</tspan>
<tspan x="1620.5" y="585.1" font-size="35.0" font-weight="bold">4</tspan>
<tspan x="1655.6" y="616.7" font-size="62.0" font-weight="bold">mol L</tspan>
<tspan x="1813.9" y="582.0" font-size="48.0" font-weight="bold">-</tspan>
<tspan x="1840.1" y="580.7" font-size="35.0" font-weight="bold">1</tspan>
</text>
<text>
<tspan x="1342.8" y="710.5" font-size="62.0" font-weight="bold">2.52</tspan>
<tspan x="1475.5" y="714.1" font-size="70.0" font-weight="normal">×</tspan>
<tspan x="1522.9" y="710.5" font-size="62.0" font-weight="bold">1</tspan>
<tspan x="1561.9" y="710.5" font-size="62.0" font-weight="bold">0</tspan>
<tspan x="1595.0" y="671.4" font-size="48.0" font-weight="bold">-</tspan>
<tspan x="1616.0" y="674.5" font-size="35.0" font-weight="bold">4</tspan>
<tspan x="1651.7" y="717.2" font-size="62.0" font-weight="bold">mol L</tspan>
<tspan x="1809.1" y="683.1" font-size="48.0" font-weight="bold">-</tspan>
<tspan x="1835.5" y="683.3" font-size="35.0" font-weight="bold">1</tspan>
</text>
<text>
<tspan x="1343.5" y="800.5" font-size="62.0" font-weight="bold">3.03</tspan>
<tspan x="1475.5" y="802.8" font-size="70.0" font-weight="normal">×</tspan>
<tspan x="1521.2" y="800.5" font-size="62.0" font-weight="bold">1</tspan>
<tspan x="1560.3" y="800.5" font-size="62.0" font-weight="bold">0</tspan>
<tspan x="1593.2" y="762.8" font-size="48.0" font-weight="bold">-</tspan>
<tspan x="1614.1" y="766.5" font-size="35.0" font-weight="bold">4</tspan>
<tspan x="1652.6" y="803.9" font-size="62.0" font-weight="bold">mol L</tspan>
<tspan x="1811.8" y="769.3" font-size="48.0" font-weight="bold">-</tspan>
<tspan x="1837.1" y="769.5" font-size="35.0" font-weight="bold">1</tspan>
</text>
<text>
<tspan x="1343.5" y="889.6" font-size="62.0" font-weight="bold">3.48</tspan>
<tspan x="1473.8" y="899.9" font-size="70.0" font-weight="normal">×</tspan>
<tspan x="1519.8" y="889.6" font-size="62.0" font-weight="bold">1</tspan>
<tspan x="1558.8" y="889.6" font-size="62.0" font-weight="bold">0</tspan>
<tspan x="1590.6" y="852.4" font-size="48.0" font-weight="bold">-</tspan>
<tspan x="1613.1" y="855.5" font-size="35.0" font-weight="bold">4</tspan>
<tspan x="1648.8" y="885.8" font-size="62.0" font-weight="bold">mol L</tspan>
<tspan x="1807.0" y="854.0" font-size="48.0" font-weight="bold">-</tspan>
<tspan x="1832.4" y="851.3" font-size="35.0" font-weight="bold">1</tspan>
</text>
</g>
</svg>
</body></html>
